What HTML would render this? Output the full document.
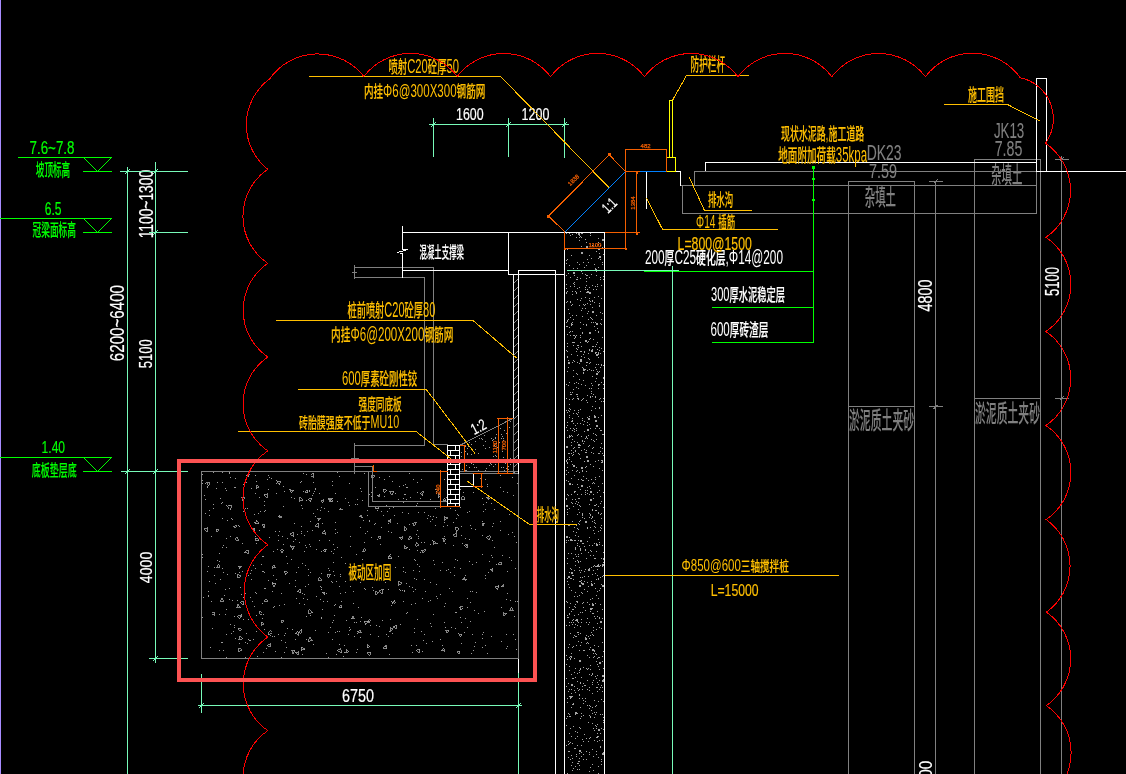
<!DOCTYPE html>
<html lang="zh"><head><meta charset="utf-8"><title>基坑支护剖面</title>
<style>
html,body{margin:0;padding:0;background:#000;overflow:hidden}
svg{display:block;will-change:transform;transform:translateZ(0)}
text{font-family:"Liberation Sans","Noto Sans CJK SC",sans-serif;font-weight:500;white-space:pre}
</style></head><body>
<svg width="1126" height="774" viewBox="0 0 1126 774" shape-rendering="crispEdges">
<rect width="1126" height="774" fill="#000"/>
<rect x="0" y="0" width="1" height="774" fill="#a88cff"/>
<path d="M367 510h1v1h-1zM226 490h1v1h-1zM250 565h1v1h-1zM461 526h1v1h-1zM424 579h1v1h-1zM248 613h1v1h-1zM491 503h1v1h-1zM500 487h1v1h-1zM405 484h1v1h-1zM225 614h1v1h-1zM350 579h1v1h-1zM262 618h1v1h-1zM294 498h1v1h-1zM298 567h1v1h-1zM234 616h1v1h-1zM307 599h1v1h-1zM420 552h1v1h-1zM434 564h1v1h-1zM294 650h1v1h-1zM243 619h1v1h-1zM455 559h1v1h-1zM349 627h1v1h-1zM262 603h1v1h-1zM377 510h1v1h-1zM417 482h1v1h-1zM241 614h1v1h-1zM362 559h1v1h-1zM506 599h1v1h-1zM435 489h1v1h-1zM340 593h1v1h-1zM235 487h1v1h-1zM360 637h1v1h-1zM430 544h1v1h-1zM379 477h1v1h-1zM383 515h1v1h-1zM454 487h1v1h-1zM349 505h1v1h-1zM405 572h1v1h-1zM456 492h1v1h-1zM407 612h1v1h-1zM272 582h1v1h-1zM344 652h1v1h-1zM385 646h1v1h-1zM320 510h1v1h-1zM279 531h1v1h-1zM208 596h1v1h-1zM295 539h1v1h-1zM276 579h1v1h-1zM514 616h1v1h-1zM266 648h1v1h-1zM229 588h1v1h-1zM488 572h1v1h-1zM403 498h1v1h-1zM407 487h1v1h-1zM308 584h1v1h-1zM376 625h1v1h-1zM202 617h1v1h-1zM253 565h1v1h-1zM238 525h1v1h-1zM278 634h1v1h-1zM379 626h1v1h-1zM264 501h1v1h-1zM440 594h1v1h-1zM245 508h1v1h-1zM377 539h1v1h-1zM284 604h1v1h-1zM472 564h1v1h-1zM480 478h1v1h-1zM354 636h1v1h-1zM335 604h1v1h-1zM287 563h1v1h-1zM474 610h1v1h-1zM370 634h1v1h-1zM301 533h1v1h-1zM318 523h1v1h-1zM384 479h1v1h-1zM345 592h1v1h-1zM511 560h1v1h-1zM380 565h1v1h-1zM254 530h1v1h-1zM374 524h1v1h-1zM514 472h1v1h-1zM378 636h1v1h-1zM263 571h1v1h-1zM304 594h1v1h-1zM424 634h1v1h-1zM404 590h1v1h-1zM245 657h1v1h-1zM267 479h1v1h-1zM440 639h1v1h-1zM507 593h1v1h-1zM381 511h1v1h-1zM269 477h1v1h-1zM254 606h1v1h-1zM273 583h1v1h-1zM301 526h1v1h-1zM310 546h1v1h-1zM502 555h1v1h-1zM416 505h1v1h-1zM383 589h1v1h-1zM466 579h1v1h-1zM458 505h1v1h-1zM470 602h1v1h-1zM427 518h1v1h-1zM278 516h1v1h-1zM263 614h1v1h-1zM467 607h1v1h-1zM256 615h1v1h-1zM299 542h1v1h-1zM252 601h1v1h-1zM216 488h1v1h-1zM515 601h1v1h-1zM304 649h1v1h-1zM462 608h1v1h-1zM461 535h1v1h-1zM334 615h1v1h-1zM305 586h1v1h-1zM264 572h1v1h-1zM239 643h1v1h-1zM239 526h1v1h-1zM264 511h1v1h-1zM389 508h1v1h-1zM272 591h1v1h-1zM250 573h1v1h-1zM285 642h1v1h-1zM284 652h1v1h-1zM465 575h1v1h-1zM302 563h1v1h-1zM389 476h1v1h-1zM436 584h1v1h-1zM398 556h1v1h-1zM353 603h1v1h-1zM259 530h1v1h-1zM255 493h1v1h-1zM222 518h1v1h-1zM268 580h1v1h-1zM334 575h1v1h-1zM465 618h1v1h-1zM369 494h1v1h-1zM295 580h1v1h-1zM339 476h1v1h-1zM335 493h1v1h-1zM315 489h1v1h-1zM264 588h1v1h-1zM485 578h1v1h-1zM339 631h1v1h-1zM471 653h1v1h-1zM258 513h1v1h-1zM294 523h1v1h-1zM358 607h1v1h-1zM350 586h1v1h-1zM293 541h1v1h-1zM211 536h1v1h-1zM211 601h1v1h-1zM299 603h1v1h-1zM430 499h1v1h-1zM423 640h1v1h-1zM403 601h1v1h-1zM312 530h1v1h-1zM273 575h1v1h-1zM229 505h1v1h-1zM332 582h1v1h-1zM245 642h1v1h-1zM461 643h1v1h-1zM508 534h1v1h-1zM225 589h1v1h-1zM339 586h1v1h-1zM388 556h1v1h-1zM482 554h1v1h-1zM360 527h1v1h-1zM202 557h1v1h-1zM445 543h1v1h-1zM304 535h1v1h-1zM204 495h1v1h-1zM247 508h1v1h-1zM223 572h1v1h-1zM357 633h1v1h-1zM501 607h1v1h-1zM281 640h1v1h-1zM507 571h1v1h-1zM455 510h1v1h-1zM276 483h1v1h-1zM464 632h1v1h-1zM460 507h1v1h-1zM460 617h1v1h-1zM210 647h1v1h-1zM319 493h1v1h-1zM270 635h1v1h-1zM255 568h1v1h-1zM487 484h1v1h-1zM474 646h1v1h-1zM337 472h1v1h-1zM237 600h1v1h-1zM249 640h1v1h-1zM444 536h1v1h-1zM337 532h1v1h-1zM307 531h1v1h-1zM437 598h1v1h-1zM241 594h1v1h-1zM349 483h1v1h-1zM303 491h1v1h-1zM371 537h1v1h-1zM357 631h1v1h-1zM208 595h1v1h-1zM339 644h1v1h-1zM313 644h1v1h-1zM466 545h1v1h-1zM440 502h1v1h-1zM483 523h1v1h-1zM245 593h1v1h-1zM436 491h1v1h-1zM432 540h1v1h-1zM309 491h1v1h-1zM274 606h1v1h-1zM386 505h1v1h-1zM462 543h1v1h-1zM388 531h1v1h-1zM450 572h1v1h-1zM203 597h1v1h-1zM409 549h1v1h-1zM415 560h1v1h-1zM263 556h1v1h-1zM375 573h1v1h-1zM302 654h1v1h-1zM350 536h1v1h-1zM403 571h1v1h-1zM503 491h1v1h-1zM421 542h1v1h-1zM345 498h1v1h-1zM348 634h1v1h-1zM329 540h1v1h-1zM363 520h1v1h-1zM421 479h1v1h-1zM406 613h1v1h-1zM243 484h1v1h-1zM412 587h1v1h-1zM272 636h1v1h-1zM450 484h1v1h-1zM483 504h1v1h-1zM414 559h1v1h-1zM332 639h1v1h-1zM324 549h1v1h-1zM403 502h1v1h-1zM284 491h1v1h-1zM456 612h1v1h-1zM372 587h1v1h-1zM482 521h1v1h-1zM291 559h1v1h-1zM365 533h1v1h-1zM493 523h1v1h-1zM413 570h1v1h-1zM470 525h1v1h-1zM375 487h1v1h-1zM496 564h1v1h-1zM459 607h1v1h-1zM312 495h1v1h-1zM329 570h1v1h-1zM430 582h1v1h-1zM213 504h1v1h-1zM444 622h1v1h-1zM239 572h1v1h-1zM472 591h1v1h-1zM329 499h1v1h-1zM279 605h1v1h-1zM257 656h1v1h-1zM436 493h1v1h-1zM222 472h1v1h-1zM321 617h1v1h-1zM357 504h1v1h-1zM472 634h1v1h-1zM259 497h1v1h-1zM470 621h1v1h-1zM335 529h1v1h-1zM202 474h1v1h-1zM437 543h1v1h-1zM326 593h1v1h-1zM482 535h1v1h-1zM412 652h1v1h-1zM230 477h1v1h-1zM417 492h1v1h-1zM419 566h1v1h-1zM219 650h1v1h-1zM417 564h1v1h-1zM303 473h1v1h-1zM460 489h1v1h-1zM304 551h1v1h-1zM301 531h1v1h-1zM337 547h1v1h-1zM455 628h1v1h-1zM316 596h1v1h-1zM230 624h1v1h-1zM403 485h1v1h-1zM507 508h1v1h-1zM232 519h1v1h-1zM362 500h1v1h-1zM286 556h1v1h-1zM470 591h1v1h-1zM395 567h1v1h-1zM428 515h1v1h-1zM242 543h1v1h-1zM417 503h1v1h-1zM308 569h1v1h-1zM360 582h1v1h-1zM444 522h1v1h-1zM430 521h1v1h-1zM444 479h1v1h-1zM328 632h1v1h-1zM222 568h1v1h-1zM234 487h1v1h-1zM234 627h1v1h-1zM341 557h1v1h-1zM517 483h1v1h-1zM364 542h1v1h-1zM506 634h1v1h-1zM235 478h1v1h-1zM256 593h1v1h-1zM440 570h1v1h-1zM422 598h1v1h-1zM456 518h1v1h-1zM357 649h1v1h-1zM512 532h1v1h-1zM365 589h1v1h-1zM507 492h1v1h-1zM402 512h1v1h-1zM235 638h1v1h-1zM484 611h1v1h-1zM420 498h1v1h-1zM337 631h1v1h-1zM251 579h1v1h-1zM430 516h1v1h-1zM415 589h1v1h-1zM322 609h1v1h-1zM264 547h1v1h-1zM492 540h1v1h-1zM335 522h1v1h-1zM297 534h1v1h-1zM346 620h1v1h-1zM235 573h1v1h-1zM327 601h1v1h-1zM253 639h1v1h-1zM220 498h1v1h-1zM320 586h1v1h-1zM222 547h1v1h-1zM227 520h1v1h-1zM500 521h1v1h-1zM392 603h1v1h-1zM431 626h1v1h-1zM205 499h1v1h-1zM381 527h1v1h-1zM376 508h1v1h-1zM332 481h1v1h-1zM306 474h1v1h-1zM411 645h1v1h-1zM361 491h1v1h-1zM455 612h1v1h-1zM410 497h1v1h-1zM483 511h1v1h-1zM248 639h1v1h-1zM340 576h1v1h-1zM359 578h1v1h-1zM361 617h1v1h-1zM414 578h1v1h-1zM388 636h1v1h-1zM409 524h1v1h-1zM424 512h1v1h-1zM248 575h1v1h-1zM388 589h1v1h-1zM268 475h1v1h-1zM274 636h1v1h-1zM405 494h1v1h-1zM391 601h1v1h-1zM380 544h1v1h-1zM289 489h1v1h-1zM453 522h1v1h-1zM224 595h1v1h-1zM513 634h1v1h-1zM284 635h1v1h-1zM315 630h1v1h-1zM302 593h1v1h-1zM313 482h1v1h-1zM467 512h1v1h-1zM265 510h1v1h-1zM300 482h1v1h-1zM221 642h1v1h-1zM262 571h1v1h-1zM483 632h1v1h-1zM417 550h1v1h-1zM419 571h1v1h-1zM430 600h1v1h-1zM213 472h1v1h-1zM452 591h1v1h-1zM436 517h1v1h-1zM406 499h1v1h-1zM385 582h1v1h-1zM428 601h1v1h-1zM222 482h1v1h-1zM244 552h1v1h-1zM463 492h1v1h-1zM460 568h1v1h-1zM271 478h1v1h-1zM516 649h1v1h-1zM301 505h1v1h-1zM453 545h1v1h-1zM286 647h1v1h-1zM315 488h1v1h-1zM514 536h1v1h-1zM516 542h1v1h-1zM435 508h1v1h-1zM447 525h1v1h-1zM517 601h1v1h-1zM392 481h1v1h-1zM408 513h1v1h-1zM344 645h1v1h-1zM394 515h1v1h-1zM337 501h1v1h-1zM226 634h1v1h-1zM433 614h1v1h-1zM255 536h1v1h-1zM403 567h1v1h-1zM390 619h1v1h-1zM371 492h1v1h-1zM292 629h1v1h-1zM226 547h1v1h-1zM331 551h1v1h-1zM501 641h1v1h-1zM202 480h1v1h-1zM350 629h1v1h-1zM415 603h1v1h-1zM226 505h1v1h-1zM515 639h1v1h-1zM229 472h1v1h-1zM357 499h1v1h-1zM475 529h1v1h-1zM356 622h1v1h-1zM389 631h1v1h-1zM283 506h1v1h-1zM326 653h1v1h-1zM251 488h1v1h-1zM340 574h1v1h-1zM207 486h1v1h-1zM489 561h1v1h-1zM498 585h1v1h-1zM467 598h1v1h-1zM202 483h1v1h-1zM214 575h1v1h-1zM283 486h1v1h-1zM255 475h1v1h-1zM302 508h1v1h-1zM467 627h1v1h-1zM414 628h1v1h-1zM360 488h1v1h-1zM226 657h1v1h-1zM477 473h1v1h-1zM425 591h1v1h-1zM433 516h1v1h-1zM255 538h1v1h-1zM221 503h1v1h-1zM336 654h1v1h-1zM485 645h1v1h-1zM469 539h1v1h-1zM313 493h1v1h-1zM209 515h1v1h-1zM322 523h1v1h-1zM369 521h1v1h-1zM370 625h1v1h-1zM476 592h1v1h-1zM473 650h1v1h-1zM215 583h1v1h-1zM321 618h1v1h-1zM310 572h1v1h-1zM241 616h1v1h-1zM276 480h1v1h-1zM256 631h1v1h-1zM378 508h1v1h-1zM217 482h1v1h-1zM223 650h1v1h-1zM225 488h1v1h-1zM388 523h1v1h-1zM475 642h1v1h-1zM398 499h1v1h-1zM306 500h1v1h-1zM246 633h1v1h-1zM446 497h1v1h-1zM306 547h1v1h-1zM418 538h1v1h-1zM333 544h1v1h-1zM390 554h1v1h-1zM510 600h1v1h-1zM349 630h1v1h-1zM413 479h1v1h-1zM252 560h1v1h-1zM226 609h1v1h-1zM248 619h1v1h-1zM289 583h1v1h-1zM305 545h1v1h-1zM229 473h1v1h-1zM250 597h1v1h-1zM296 598h1v1h-1zM465 538h1v1h-1zM283 544h1v1h-1zM320 599h1v1h-1zM243 597h1v1h-1zM489 498h1v1h-1zM384 496h1v1h-1zM404 494h1v1h-1zM214 567h1v1h-1zM336 581h1v1h-1zM458 515h1v1h-1zM321 589h1v1h-1zM506 648h1v1h-1zM219 561h1v1h-1zM469 511h1v1h-1zM432 641h1v1h-1zM367 515h1v1h-1zM333 620h1v1h-1zM373 590h1v1h-1zM323 601h1v1h-1zM356 652h1v1h-1zM281 657h1v1h-1zM328 657h1v1h-1zM469 561h1v1h-1zM369 520h1v1h-1zM254 514h1v1h-1zM254 522h1v1h-1zM277 549h1v1h-1zM424 542h1v1h-1zM256 543h1v1h-1zM400 590h1v1h-1zM406 583h1v1h-1zM458 633h1v1h-1zM213 508h1v1h-1zM409 473h1v1h-1zM422 651h1v1h-1zM417 530h1v1h-1zM500 530h1v1h-1zM265 588h1v1h-1zM335 632h1v1h-1zM416 534h1v1h-1zM282 536h1v1h-1zM449 588h1v1h-1zM411 604h1v1h-1zM295 639h1v1h-1zM207 571h1v1h-1zM256 481h1v1h-1zM313 513h1v1h-1zM304 604h1v1h-1zM496 588h1v1h-1zM445 603h1v1h-1zM391 605h1v1h-1zM435 525h1v1h-1zM296 572h1v1h-1zM264 629h1v1h-1zM230 536h1v1h-1zM406 487h1v1h-1zM416 579h1v1h-1zM382 620h1v1h-1zM316 549h1v1h-1zM471 528h1v1h-1zM402 590h1v1h-1zM268 489h1v1h-1zM300 592h1v1h-1zM317 509h1v1h-1zM413 591h1v1h-1zM482 638h1v1h-1zM442 562h1v1h-1zM319 540h1v1h-1zM331 581h1v1h-1zM448 472h1v1h-1zM345 563h1v1h-1zM356 554h1v1h-1zM421 631h1v1h-1zM387 511h1v1h-1zM399 486h1v1h-1zM491 555h1v1h-1zM273 607h1v1h-1zM500 475h1v1h-1zM309 490h1v1h-1zM330 627h1v1h-1zM275 531h1v1h-1zM433 560h1v1h-1zM308 575h1v1h-1zM287 628h1v1h-1zM513 495h1v1h-1zM482 634h1v1h-1zM303 598h1v1h-1zM473 492h1v1h-1zM426 643h1v1h-1zM486 502h1v1h-1zM321 507h1v1h-1zM487 486h1v1h-1zM275 651h1v1h-1zM457 514h1v1h-1zM205 513h1v1h-1zM441 650h1v1h-1zM353 591h1v1h-1zM416 645h1v1h-1zM386 634h1v1h-1zM212 628h1v1h-1zM371 496h1v1h-1zM450 508h1v1h-1zM414 632h1v1h-1zM250 640h1v1h-1zM444 606h1v1h-1zM309 544h1v1h-1zM418 536h1v1h-1zM350 546h1v1h-1zM454 575h1v1h-1zM341 601h1v1h-1zM306 639h1v1h-1zM262 556h1v1h-1zM355 504h1v1h-1zM246 482h1v1h-1zM485 575h1v1h-1zM227 574h1v1h-1zM205 483h1v1h-1zM445 627h1v1h-1zM232 600h1v1h-1zM515 568h1v1h-1zM507 646h1v1h-1zM222 642h1v1h-1zM291 497h1v1h-1zM220 579h1v1h-1zM208 566h1v1h-1zM273 551h1v1h-1zM334 549h1v1h-1zM219 553h1v1h-1zM491 636h1v1h-1zM229 599h1v1h-1zM222 502h1v1h-1zM417 619h1v1h-1zM409 586h1v1h-1zM400 624h1v1h-1zM281 593h1v1h-1zM482 498h1v1h-1zM443 526h1v1h-1zM209 581h1v1h-1zM264 494h1v1h-1zM264 505h1v1h-1zM343 656h1v1h-1zM432 519h1v1h-1zM389 654h1v1h-1zM276 493h1v1h-1zM487 653h1v1h-1zM332 485h1v1h-1zM207 487h1v1h-1zM242 571h1v1h-1zM509 514h1v1h-1zM451 627h1v1h-1zM390 619h1v1h-1zM442 645h1v1h-1zM261 564h1v1h-1zM285 633h1v1h-1zM446 570h1v1h-1zM433 541h1v1h-1zM492 557h1v1h-1zM233 631h1v1h-1zM509 557h1v1h-1zM209 510h1v1h-1zM360 621h1v1h-1zM328 568h1v1h-1zM394 626h1v1h-1zM321 587h1v1h-1zM202 554h1v1h-1zM418 512h1v1h-1zM223 545h1v1h-1zM494 509h1v1h-1zM482 647h1v1h-1zM457 560h1v1h-1zM478 613h1v1h-1zM397 523h1v1h-1zM321 551h1v1h-1zM404 591h1v1h-1zM332 622h1v1h-1zM399 589h1v1h-1zM476 562h1v1h-1zM321 573h1v1h-1zM334 605h1v1h-1zM461 622h1v1h-1zM310 521h1v1h-1zM350 564h1v1h-1zM385 575h1v1h-1zM278 535h1v1h-1zM454 567h1v1h-1zM392 633h1v1h-1zM243 511h1v1h-1zM217 560h1v1h-1zM512 477h1v1h-1zM306 616h1v1h-1zM492 526h1v1h-1zM345 581h1v1h-1zM430 623h1v1h-1zM269 537h1v1h-1zM375 523h1v1h-1zM395 493h1v1h-1zM219 614h1v1h-1zM436 596h1v1h-1zM234 625h1v1h-1zM263 652h1v1h-1zM333 553h1v1h-1zM247 643h1v1h-1zM295 586h1v1h-1zM391 532h1v1h-1zM315 516h1v1h-1zM333 562h1v1h-1zM485 479h1v1h-1zM226 538h1v1h-1zM449 486h1v1h-1zM364 473h1v1h-1zM354 622h1v1h-1zM255 592h1v1h-1zM333 571h1v1h-1zM448 569h1v1h-1zM324 508h1v1h-1zM208 591h1v1h-1zM301 481h1v1h-1zM314 491h1v1h-1zM393 507h1v1h-1zM251 570h1v1h-1zM240 587h1v1h-1zM367 531h1v1h-1zM389 508h1v1h-1zM231 518h1v1h-1zM485 509h1v1h-1zM278 540h1v1h-1zM328 511h1v1h-1zM494 547h1v1h-1zM287 538h1v1h-1zM364 588h1v1h-1zM260 511h1v1h-1zM231 633h1v1h-1zM310 615h1v1h-1zM348 502h1v1h-1zM305 565h1v1h-1zM335 533h1v1h-1z" fill="#9a9a9a"/>
<path d="M236.7 525.6L234.9 528.4L233.7 526.3zM249.0 473.5L248.9 477.0L246.2 475.8zM259.8 611.3L262.4 613.4L259.5 614.4zM394.7 599.5L395.3 603.3L392.1 602.5zM456.8 532.7L456.0 537.1L453.2 535.2zM261.4 625.1L261.4 622.1L264.3 624.3zM243.0 600.9L243.9 605.0L240.1 602.6zM497.7 564.0L501.4 561.6L501.1 565.2zM284.1 621.3L281.7 622.5L281.9 619.6zM423.2 491.4L422.8 495.6L419.9 493.4zM328.1 498.1L332.6 498.0L329.8 501.8zM326.1 548.8L325.8 552.0L323.0 550.4zM340.8 648.6L341.6 652.5L337.2 650.5zM280.7 549.5L284.0 550.1L282.0 552.5zM506.8 613.6L503.9 616.2L503.0 612.9zM412.3 523.7L416.4 522.2L414.6 526.2zM300.5 592.4L297.4 591.6L299.9 588.7zM243.0 500.5L241.6 497.0L245.3 498.1zM381.9 593.6L379.0 591.0L382.5 589.5zM272.3 568.3L273.5 564.7L275.5 567.4zM292.8 654.1L291.8 650.1L295.0 651.1zM342.0 608.0L339.3 607.5L341.1 604.8zM396.6 625.4L396.3 628.9L393.3 627.1zM489.0 496.6L488.1 499.5L486.0 497.5zM445.6 630.0L449.1 630.3L447.0 633.2zM324.4 530.3L325.8 534.1L321.7 533.2zM386.6 490.2L384.1 492.7L383.0 489.4zM206.6 482.4L210.0 482.8L208.5 485.6zM415.5 546.0L416.2 542.7L418.9 544.9zM327.1 574.4L330.8 574.3L328.3 577.9zM369.2 622.9L366.9 621.4L370.2 619.5zM459.8 650.7L458.9 654.3L456.5 651.9zM398.0 585.3L398.6 580.5L402.2 583.5zM207.6 527.5L207.2 531.5L204.0 529.2zM367.3 653.0L371.1 652.0L369.8 655.4zM364.3 621.4L368.8 621.3L365.7 624.7zM259.2 524.0L255.2 523.9L256.9 520.4zM383.1 648.1L385.9 644.7L386.9 648.5zM455.1 527.4L459.2 528.2L456.5 531.8zM298.3 632.4L301.3 629.4L301.3 633.4zM376.5 495.7L379.5 494.4L379.3 497.4zM264.0 527.5L262.4 524.8L265.2 524.6zM460.7 499.1L463.2 495.6L465.0 499.8zM267.4 645.6L270.5 643.5L269.8 646.9zM317.6 518.3L320.5 518.4L318.7 520.9zM322.1 592.4L325.2 591.9L324.3 594.6zM237.5 577.5L237.7 573.8L240.8 576.2zM294.4 546.4L292.9 549.5L290.0 545.9zM408.0 539.3L410.5 535.7L411.9 538.6zM239.8 636.3L242.8 638.9L238.9 639.8zM216.2 529.2L219.0 530.1L216.6 532.3zM313.8 472.9L313.6 477.3L310.6 475.5zM239.6 618.8L237.1 616.2L241.3 615.3zM293.9 490.6L291.2 493.0L290.4 489.8zM219.7 601.3L222.3 597.9L223.4 601.5zM287.9 572.1L285.6 575.0L284.2 571.4zM300.0 497.4L303.1 499.9L299.0 501.2zM299.0 635.3L295.4 633.4L297.9 631.4zM389.7 555.2L392.0 558.6L388.2 558.8zM264.3 601.2L266.1 598.8L267.5 601.3zM513.1 610.5L509.9 610.5L511.5 607.1zM374.8 475.9L372.6 478.7L370.8 475.8zM214.3 612.1L214.1 615.5L211.6 613.2zM460.4 609.6L460.5 606.3L463.4 608.2zM277.2 481.2L281.0 481.6L279.2 484.6zM252.2 528.1L255.1 528.2L254.1 530.3zM340.9 507.5L342.3 509.7L339.7 510.1zM362.8 551.9L363.5 548.8L366.1 550.4zM379.9 539.0L377.5 536.6L380.5 536.3zM503.0 584.4L503.4 587.4L500.5 586.2zM404.3 530.8L404.2 526.5L407.4 529.0zM318.1 580.1L319.5 576.9L321.5 580.1zM239.6 631.1L238.2 628.4L241.1 628.5zM238.4 566.3L241.4 566.4L239.8 568.6zM441.1 495.8L438.0 497.7L438.2 493.6zM444.5 497.7L446.1 500.7L443.0 500.3zM425.5 549.9L423.4 553.4L421.4 550.2zM309.0 609.6L312.8 612.5L308.9 613.9zM389.2 491.6L393.5 491.0L392.5 495.1zM465.5 580.4L462.5 579.6L464.1 577.4zM324.3 499.6L322.7 502.6L320.6 500.7zM360.3 629.8L361.1 632.5L358.4 632.0zM467.2 543.7L467.1 547.6L464.0 545.5zM255.4 540.2L257.5 537.6L259.0 540.8zM348.6 651.8L345.8 652.8L346.3 649.8zM369.9 646.5L367.1 647.7L367.4 644.8zM318.4 523.2L319.0 527.4L314.8 526.0zM399.3 537.3L402.6 536.9L401.7 539.7zM279.6 518.2L279.4 515.4L282.0 517.0zM256.3 488.7L256.3 485.5L259.1 486.6zM227.5 505.5L231.8 506.2L230.4 509.5zM483.1 526.1L481.5 523.7L484.3 523.3zM390.4 627.9L393.2 629.0L390.3 631.2zM310.8 501.5L308.4 499.5L311.5 498.0zM404.2 545.8L407.5 547.8L404.6 549.2zM388.0 521.3L390.7 519.3L390.8 522.4zM307.5 492.9L304.9 491.9L307.5 490.1zM375.1 591.7L378.4 592.2L376.0 594.6zM441.9 650.0L443.7 648.0L445.2 651.4zM446.1 539.3L443.9 541.7L442.8 538.3zM378.2 506.5L376.0 509.4L374.8 506.8zM447.5 518.0L444.3 520.4L444.0 516.5zM240.4 607.6L236.9 607.5L237.9 604.1zM497.6 589.1L495.1 586.9L498.6 586.2zM298.1 655.1L295.4 652.6L299.0 651.9zM290.0 534.3L293.4 532.1L293.6 536.6zM268.0 635.2L269.5 630.8L272.2 632.9zM241.9 649.9L238.7 651.7L238.6 647.6zM310.1 637.3L312.3 640.5L308.0 641.5zM359.6 516.7L360.9 514.8L362.6 517.5zM248.3 553.8L244.7 552.0L248.1 549.8zM488.9 540.0L486.4 537.3L490.4 535.5zM216.7 567.7L218.5 563.9L220.2 567.1zM419.8 649.1L419.0 653.1L416.1 650.4zM333.4 501.0L331.1 502.0L330.7 499.3zM268.0 493.6L267.1 497.8L264.0 495.6zM304.8 648.9L301.3 650.5L301.1 646.8zM434.2 540.8L436.5 543.2L433.1 544.2zM273.8 587.0L272.0 583.3L276.0 583.2zM489.5 569.7L492.5 568.3L492.4 571.7zM461.8 634.0L460.9 636.5L458.9 634.9zM237.4 536.7L238.3 540.8L234.7 539.3zM353.1 616.1L354.3 618.6L351.3 618.9z" fill="none" stroke="#a8a8a8" stroke-width="0.8"/>
<path d="M590 491h2v2h-2zM578 233h1v1h-1zM569 415h1v1h-1zM600 514h1v1h-1zM582 480h1v1h-1zM594 326h1v1h-1zM597 323h1v1h-1zM593 530h1v1h-1zM589 277h1v1h-1zM590 608h2v2h-2zM584 650h1v1h-1zM582 593h1v1h-1zM603 365h1v1h-1zM578 614h1v1h-1zM579 570h1v1h-1zM571 689h1v1h-1zM599 657h1v1h-1zM567 343h1v1h-1zM595 706h1v1h-1zM593 657h1v1h-1zM577 299h1v1h-1zM597 371h1v1h-1zM566 470h1v1h-1zM591 274h1v1h-1zM584 571h1v1h-1zM595 353h1v1h-1zM570 248h1v1h-1zM571 453h1v1h-1zM569 437h1v1h-1zM596 289h1v1h-1zM592 376h1v1h-1zM569 382h1v1h-1zM578 763h1v1h-1zM577 514h1v1h-1zM571 553h1v1h-1zM585 637h1v1h-1zM592 285h1v1h-1zM581 622h1v1h-1zM600 496h1v1h-1zM574 286h1v1h-1zM589 708h1v1h-1zM603 377h1v1h-1zM587 438h1v1h-1zM601 285h1v1h-1zM566 302h1v1h-1zM602 564h2v2h-2zM580 682h1v1h-1zM579 698h1v1h-1zM594 441h1v1h-1zM569 417h1v1h-1zM573 283h1v1h-1zM570 742h1v1h-1zM601 401h1v1h-1zM584 449h1v1h-1zM576 382h1v1h-1zM579 761h1v1h-1zM572 439h1v1h-1zM569 657h1v1h-1zM582 686h1v1h-1zM575 291h1v1h-1zM574 275h1v1h-1zM594 533h1v1h-1zM603 559h1v1h-1zM575 549h1v1h-1zM586 452h1v1h-1zM580 633h1v1h-1zM586 622h1v1h-1zM584 461h1v1h-1zM571 435h1v1h-1zM577 673h1v1h-1zM591 350h2v2h-2zM588 358h1v1h-1zM579 769h1v1h-1zM584 734h1v1h-1zM597 328h1v1h-1zM583 543h1v1h-1zM600 323h1v1h-1zM596 510h1v1h-1zM580 540h2v2h-2zM572 234h1v1h-1zM575 540h1v1h-1zM587 591h1v1h-1zM581 570h1v1h-1zM577 345h1v1h-1zM585 304h1v1h-1zM595 330h1v1h-1zM573 398h1v1h-1zM595 269h2v2h-2zM598 332h1v1h-1zM574 658h1v1h-1zM588 311h1v1h-1zM576 601h1v1h-1zM571 572h2v2h-2zM596 543h1v1h-1zM572 342h1v1h-1zM573 389h1v1h-1zM600 353h1v1h-1zM581 400h1v1h-1zM568 751h1v1h-1zM578 523h1v1h-1zM579 363h1v1h-1zM600 746h1v1h-1zM572 248h1v1h-1zM569 733h1v1h-1zM602 448h1v1h-1zM580 322h1v1h-1zM575 503h1v1h-1zM593 635h1v1h-1zM573 531h1v1h-1zM573 319h1v1h-1zM579 472h1v1h-1zM598 296h1v1h-1zM570 578h1v1h-1zM568 453h1v1h-1zM577 543h1v1h-1zM595 420h2v2h-2zM592 649h2v2h-2zM581 384h1v1h-1zM576 387h1v1h-1zM574 441h1v1h-1zM580 572h1v1h-1zM570 235h1v1h-1zM596 271h1v1h-1zM587 303h1v1h-1zM570 436h1v1h-1zM569 607h1v1h-1zM571 590h1v1h-1zM597 741h1v1h-1zM585 287h1v1h-1zM603 401h1v1h-1zM598 539h1v1h-1zM603 351h1v1h-1zM582 470h1v1h-1zM603 701h1v1h-1zM597 284h1v1h-1zM591 583h1v1h-1zM591 322h1v1h-1zM587 669h1v1h-1zM566 540h1v1h-1zM567 346h1v1h-1zM596 661h1v1h-1zM585 701h1v1h-1zM600 451h1v1h-1zM591 710h1v1h-1zM584 576h1v1h-1zM583 424h1v1h-1zM594 650h1v1h-1zM581 356h1v1h-1zM568 617h1v1h-1zM577 632h1v1h-1zM575 604h1v1h-1zM588 636h1v1h-1zM586 751h1v1h-1zM578 399h1v1h-1zM566 233h1v1h-1zM572 484h1v1h-1zM582 593h1v1h-1zM601 759h1v1h-1zM574 492h1v1h-1zM570 759h1v1h-1zM594 505h1v1h-1zM589 545h1v1h-1zM590 767h1v1h-1zM569 743h1v1h-1zM567 291h1v1h-1zM573 619h1v1h-1zM598 388h1v1h-1zM595 268h1v1h-1zM596 373h2v2h-2zM583 380h1v1h-1zM602 753h2v2h-2zM591 410h1v1h-1zM583 480h1v1h-1zM600 259h1v1h-1zM592 319h1v1h-1zM590 737h1v1h-1zM589 517h1v1h-1zM602 740h1v1h-1zM600 588h1v1h-1zM578 761h1v1h-1zM569 399h1v1h-1zM599 407h1v1h-1zM569 537h1v1h-1zM589 424h1v1h-1zM596 435h1v1h-1zM594 645h1v1h-1zM582 603h1v1h-1zM590 716h1v1h-1zM579 694h1v1h-1zM592 396h1v1h-1zM586 278h1v1h-1zM600 714h1v1h-1zM592 311h1v1h-1zM589 638h1v1h-1zM584 357h1v1h-1zM566 275h1v1h-1zM602 545h1v1h-1zM589 504h1v1h-1zM570 331h1v1h-1zM592 346h1v1h-1zM576 413h1v1h-1zM573 646h1v1h-1zM587 642h1v1h-1zM587 591h1v1h-1zM575 766h1v1h-1zM584 369h1v1h-1zM570 656h1v1h-1zM566 474h1v1h-1zM591 452h1v1h-1zM583 368h1v1h-1zM581 745h1v1h-1zM584 267h1v1h-1zM590 527h1v1h-1zM590 514h1v1h-1zM598 512h1v1h-1zM580 549h1v1h-1zM602 313h1v1h-1zM599 306h1v1h-1zM586 456h2v2h-2zM574 690h1v1h-1zM569 689h1v1h-1zM568 273h1v1h-1zM595 346h1v1h-1zM584 581h1v1h-1zM599 468h1v1h-1zM579 521h1v1h-1zM602 264h1v1h-1zM577 262h1v1h-1zM583 667h1v1h-1zM583 324h1v1h-1zM591 632h1v1h-1zM603 651h1v1h-1zM569 613h1v1h-1zM587 490h1v1h-1zM596 369h1v1h-1zM595 428h1v1h-1zM578 347h1v1h-1zM584 431h1v1h-1zM599 249h1v1h-1zM578 434h1v1h-1zM578 536h1v1h-1zM567 249h1v1h-1zM579 660h2v2h-2zM600 503h1v1h-1zM576 556h1v1h-1zM585 340h2v2h-2zM577 596h1v1h-1zM567 698h1v1h-1zM587 342h1v1h-1zM589 715h1v1h-1zM571 578h1v1h-1zM596 364h1v1h-1zM599 490h1v1h-1zM579 595h1v1h-1zM567 430h1v1h-1zM599 680h1v1h-1zM590 397h1v1h-1zM593 370h1v1h-1zM573 452h1v1h-1zM600 621h2v2h-2zM571 707h1v1h-1zM579 305h1v1h-1zM587 705h1v1h-1zM579 240h1v1h-1zM588 624h1v1h-1zM572 362h1v1h-1zM594 700h1v1h-1zM594 302h1v1h-1zM569 714h1v1h-1zM581 713h1v1h-1zM596 378h1v1h-1zM597 623h1v1h-1zM581 467h2v2h-2zM602 462h1v1h-1zM568 481h1v1h-1zM578 233h2v2h-2zM569 644h1v1h-1zM580 278h1v1h-1zM602 656h1v1h-1zM575 712h2v2h-2zM572 331h1v1h-1zM599 399h1v1h-1zM586 341h1v1h-1zM590 235h1v1h-1zM567 320h1v1h-1zM600 312h1v1h-1zM600 530h1v1h-1zM566 446h2v2h-2zM598 701h1v1h-1zM579 672h1v1h-1zM571 765h1v1h-1zM572 322h1v1h-1zM572 324h1v1h-1zM585 549h1v1h-1zM575 738h1v1h-1zM587 429h2v2h-2zM570 277h1v1h-1zM579 765h1v1h-1zM592 448h1v1h-1zM571 255h1v1h-1zM567 371h1v1h-1zM593 289h1v1h-1zM584 685h1v1h-1zM574 491h1v1h-1zM588 262h1v1h-1zM572 399h1v1h-1zM596 566h1v1h-1zM581 246h1v1h-1zM567 581h1v1h-1zM588 569h2v2h-2zM581 583h1v1h-1zM600 398h1v1h-1zM586 668h1v1h-1zM589 298h1v1h-1zM595 397h1v1h-1zM569 483h1v1h-1zM592 764h1v1h-1zM571 450h1v1h-1zM566 499h1v1h-1zM573 413h1v1h-1zM576 524h1v1h-1zM581 582h1v1h-1zM567 326h1v1h-1zM579 498h1v1h-1zM603 378h1v1h-1zM570 633h1v1h-1zM570 301h1v1h-1zM570 603h1v1h-1zM601 348h1v1h-1zM598 513h1v1h-1zM594 415h1v1h-1zM582 543h1v1h-1zM577 688h1v1h-1zM572 704h1v1h-1zM579 264h1v1h-1zM580 342h1v1h-1zM588 576h1v1h-1zM566 427h1v1h-1zM571 394h1v1h-1zM603 552h1v1h-1zM577 279h1v1h-1zM572 291h1v1h-1zM571 461h1v1h-1zM584 248h1v1h-1zM574 596h1v1h-1zM577 374h1v1h-1zM582 612h1v1h-1zM599 347h1v1h-1zM576 525h1v1h-1zM567 462h1v1h-1zM580 626h1v1h-1zM581 716h1v1h-1zM566 284h1v1h-1zM590 611h1v1h-1zM567 716h1v1h-1zM573 345h1v1h-1zM597 328h1v1h-1zM597 724h1v1h-1zM580 669h1v1h-1zM573 428h1v1h-1zM589 687h1v1h-1zM587 291h1v1h-1zM580 728h1v1h-1zM602 618h1v1h-1zM593 770h1v1h-1zM599 407h1v1h-1zM586 450h1v1h-1zM596 504h1v1h-1zM595 367h1v1h-1zM594 558h1v1h-1zM583 602h1v1h-1zM596 726h1v1h-1zM598 244h1v1h-1zM598 258h1v1h-1zM568 472h1v1h-1zM574 606h1v1h-1zM586 275h1v1h-1zM589 419h1v1h-1zM567 702h1v1h-1zM571 693h1v1h-1zM568 525h1v1h-1zM574 429h1v1h-1zM586 437h1v1h-1zM591 258h1v1h-1zM566 601h1v1h-1zM580 300h1v1h-1zM598 736h1v1h-1zM579 454h1v1h-1zM596 439h1v1h-1zM595 510h1v1h-1zM586 265h1v1h-1zM587 655h1v1h-1zM567 615h1v1h-1zM581 233h1v1h-1zM582 698h1v1h-1zM601 628h1v1h-1zM581 356h1v1h-1zM592 385h1v1h-1zM599 371h1v1h-1zM569 404h1v1h-1zM576 315h1v1h-1zM594 651h1v1h-1zM602 461h1v1h-1zM583 650h1v1h-1zM593 339h1v1h-1zM584 305h1v1h-1zM577 374h1v1h-1zM599 618h1v1h-1zM598 352h1v1h-1zM597 611h1v1h-1zM601 430h1v1h-1zM603 492h1v1h-1zM577 494h1v1h-1zM592 608h1v1h-1zM582 308h1v1h-1zM569 716h1v1h-1zM586 242h1v1h-1zM587 417h1v1h-1zM586 471h1v1h-1zM571 445h1v1h-1zM591 370h1v1h-1zM580 612h1v1h-1zM589 622h1v1h-1zM589 363h1v1h-1zM579 505h1v1h-1zM598 372h1v1h-1zM592 312h1v1h-1zM595 573h1v1h-1zM588 586h1v1h-1zM593 555h1v1h-1zM596 251h1v1h-1zM576 636h1v1h-1zM584 441h1v1h-1zM603 434h1v1h-1zM585 494h1v1h-1zM570 698h1v1h-1zM603 279h1v1h-1zM566 655h1v1h-1zM583 262h1v1h-1zM566 410h1v1h-1zM581 237h1v1h-1zM577 504h1v1h-1zM581 252h2v2h-2zM571 323h1v1h-1zM575 714h1v1h-1zM599 590h1v1h-1zM592 723h1v1h-1zM587 289h1v1h-1zM582 399h1v1h-1zM570 286h1v1h-1zM582 367h1v1h-1zM587 582h1v1h-1zM575 425h1v1h-1zM601 285h1v1h-1zM593 627h1v1h-1zM567 467h1v1h-1zM570 716h1v1h-1zM603 388h1v1h-1zM594 712h1v1h-1zM580 328h1v1h-1zM596 678h1v1h-1zM578 453h1v1h-1zM595 479h1v1h-1zM598 666h1v1h-1zM587 291h2v2h-2zM567 459h1v1h-1zM579 698h1v1h-1zM577 442h1v1h-1zM582 367h1v1h-1zM580 707h1v1h-1zM585 639h1v1h-1zM585 289h1v1h-1zM586 324h1v1h-1zM586 759h1v1h-1zM577 484h1v1h-1zM578 561h1v1h-1zM598 766h1v1h-1zM596 551h1v1h-1zM572 304h1v1h-1zM593 728h1v1h-1zM598 460h1v1h-1zM596 661h1v1h-1zM589 690h1v1h-1zM586 285h1v1h-1zM595 322h1v1h-1zM583 369h2v2h-2zM601 365h1v1h-1zM568 540h1v1h-1zM587 680h1v1h-1zM575 636h1v1h-1zM569 265h1v1h-1zM574 342h1v1h-1zM586 400h1v1h-1zM592 406h1v1h-1zM590 669h1v1h-1zM589 359h1v1h-1zM595 352h1v1h-1zM590 717h1v1h-1zM577 528h1v1h-1zM591 439h1v1h-1zM574 431h1v1h-1zM597 342h1v1h-1zM598 579h1v1h-1zM567 494h1v1h-1zM575 561h1v1h-1zM587 425h1v1h-1zM569 233h1v1h-1zM602 585h2v2h-2zM582 273h1v1h-1zM586 466h1v1h-1zM583 607h1v1h-1zM588 636h1v1h-1zM573 465h2v2h-2zM592 483h1v1h-1zM569 408h1v1h-1zM585 492h1v1h-1zM586 622h1v1h-1zM585 369h1v1h-1zM587 289h1v1h-1zM577 560h1v1h-1zM574 282h1v1h-1zM601 699h1v1h-1zM596 705h1v1h-1zM579 581h1v1h-1zM570 335h1v1h-1zM567 259h1v1h-1zM570 302h1v1h-1zM569 436h1v1h-1zM591 551h1v1h-1zM590 550h1v1h-1zM602 714h1v1h-1zM588 552h1v1h-1zM588 341h1v1h-1zM599 303h1v1h-1zM592 245h1v1h-1zM580 445h1v1h-1zM600 604h1v1h-1zM573 268h1v1h-1zM602 675h2v2h-2zM574 672h1v1h-1zM577 769h1v1h-1zM598 598h1v1h-1zM569 457h1v1h-1zM593 394h1v1h-1zM570 659h1v1h-1zM585 569h1v1h-1zM577 736h1v1h-1zM598 244h1v1h-1zM575 620h1v1h-1zM601 401h1v1h-1zM601 348h1v1h-1zM589 287h1v1h-1zM579 750h2v2h-2zM598 453h1v1h-1zM575 451h1v1h-1zM594 264h1v1h-1zM582 515h1v1h-1zM579 758h1v1h-1zM569 327h1v1h-1zM587 402h1v1h-1zM581 494h1v1h-1zM577 470h1v1h-1zM578 345h1v1h-1zM579 512h1v1h-1zM593 756h1v1h-1zM566 686h1v1h-1zM570 658h1v1h-1zM595 408h1v1h-1zM600 577h1v1h-1zM581 436h1v1h-1zM592 598h1v1h-1zM585 550h1v1h-1zM579 689h1v1h-1zM578 556h1v1h-1zM584 421h1v1h-1zM594 730h1v1h-1zM583 715h1v1h-1zM596 754h1v1h-1zM576 471h1v1h-1zM590 304h1v1h-1zM588 668h1v1h-1zM591 388h1v1h-1zM602 239h2v2h-2zM596 595h1v1h-1zM591 675h1v1h-1zM576 237h1v1h-1zM575 607h1v1h-1zM591 567h1v1h-1zM580 581h1v1h-1zM576 645h1v1h-1zM584 351h1v1h-1zM567 563h1v1h-1zM594 740h1v1h-1zM599 253h1v1h-1zM600 565h1v1h-1zM596 352h1v1h-1zM590 499h2v2h-2zM590 301h1v1h-1zM600 245h1v1h-1zM587 527h1v1h-1zM576 619h2v2h-2zM578 447h1v1h-1zM574 383h1v1h-1zM580 291h1v1h-1zM573 342h1v1h-1zM601 324h1v1h-1zM575 677h1v1h-1zM568 741h1v1h-1zM590 665h1v1h-1zM577 362h1v1h-1zM568 319h1v1h-1zM573 272h2v2h-2zM576 348h1v1h-1zM572 418h1v1h-1zM588 435h1v1h-1zM593 566h1v1h-1zM582 689h1v1h-1zM567 412h1v1h-1zM575 592h1v1h-1zM569 689h1v1h-1zM568 683h1v1h-1zM602 247h1v1h-1zM567 578h1v1h-1zM598 384h1v1h-1zM601 761h1v1h-1zM577 625h1v1h-1zM566 745h1v1h-1zM598 238h1v1h-1zM589 657h1v1h-1zM578 622h1v1h-1zM592 574h1v1h-1zM603 398h1v1h-1zM590 428h1v1h-1zM579 237h1v1h-1zM586 558h1v1h-1zM601 501h1v1h-1zM587 395h1v1h-1zM600 733h1v1h-1zM571 736h1v1h-1zM568 385h1v1h-1zM571 657h1v1h-1zM603 752h1v1h-1zM566 322h1v1h-1zM574 338h1v1h-1zM573 678h1v1h-1zM582 316h1v1h-1zM589 332h2v2h-2zM585 452h1v1h-1zM582 517h1v1h-1zM579 753h1v1h-1zM599 669h1v1h-1zM583 700h1v1h-1zM586 643h1v1h-1zM596 354h2v2h-2zM575 535h1v1h-1zM600 367h1v1h-1zM590 488h1v1h-1zM598 267h1v1h-1zM567 321h1v1h-1zM568 453h1v1h-1zM596 315h1v1h-1zM587 422h1v1h-1zM573 423h1v1h-1zM582 577h1v1h-1zM580 718h1v1h-1zM580 489h1v1h-1zM569 459h1v1h-1zM585 297h1v1h-1zM600 687h1v1h-1zM592 713h1v1h-1zM569 625h1v1h-1zM595 725h1v1h-1zM578 498h1v1h-1zM573 558h1v1h-1zM576 373h1v1h-1zM596 737h1v1h-1zM602 609h1v1h-1zM597 569h1v1h-1zM572 609h1v1h-1zM573 376h1v1h-1zM584 571h1v1h-1zM601 415h1v1h-1zM567 558h1v1h-1zM573 524h1v1h-1zM589 604h1v1h-1zM578 412h1v1h-1zM578 540h1v1h-1zM581 298h1v1h-1zM579 305h1v1h-1zM598 353h1v1h-1zM581 346h1v1h-1zM572 430h1v1h-1zM566 505h2v2h-2zM593 322h1v1h-1zM586 242h1v1h-1zM588 418h2v2h-2zM578 416h1v1h-1zM580 337h1v1h-1zM573 506h1v1h-1zM598 564h1v1h-1zM590 647h1v1h-1zM567 301h1v1h-1zM593 346h1v1h-1zM583 759h1v1h-1zM589 255h1v1h-1zM569 670h1v1h-1zM590 397h1v1h-1zM589 369h1v1h-1zM589 494h1v1h-1zM576 394h1v1h-1zM573 360h1v1h-1zM598 331h1v1h-1zM592 707h1v1h-1zM566 292h1v1h-1zM574 475h1v1h-1zM566 480h1v1h-1zM588 480h1v1h-1zM596 629h1v1h-1zM596 275h1v1h-1zM569 696h1v1h-1zM581 271h1v1h-1zM577 435h1v1h-1zM571 572h1v1h-1zM587 313h1v1h-1zM585 308h1v1h-1zM594 483h1v1h-1zM577 545h1v1h-1zM572 758h1v1h-1zM576 279h1v1h-1zM576 292h1v1h-1zM568 576h2v2h-2zM599 428h1v1h-1zM576 467h1v1h-1zM593 498h1v1h-1zM571 478h1v1h-1zM566 461h1v1h-1zM572 436h1v1h-1zM600 527h1v1h-1zM587 487h1v1h-1zM587 460h2v2h-2zM592 674h1v1h-1zM571 305h1v1h-1zM578 502h1v1h-1zM572 624h1v1h-1zM597 492h1v1h-1zM597 691h1v1h-1zM603 717h1v1h-1zM570 728h1v1h-1zM567 422h1v1h-1zM568 309h1v1h-1zM586 478h1v1h-1zM603 507h1v1h-1zM589 649h1v1h-1zM583 398h1v1h-1zM594 416h2v2h-2zM571 674h1v1h-1zM575 499h1v1h-1zM573 622h1v1h-1zM580 236h1v1h-1zM588 319h1v1h-1zM603 558h1v1h-1zM601 685h1v1h-1zM602 434h1v1h-1zM579 727h1v1h-1zM574 615h1v1h-1zM601 460h1v1h-1zM598 364h1v1h-1zM592 673h1v1h-1zM577 277h1v1h-1zM583 354h1v1h-1zM594 616h1v1h-1zM581 756h1v1h-1zM600 530h1v1h-1zM568 495h1v1h-1zM579 695h1v1h-1zM585 698h1v1h-1zM589 445h1v1h-1zM593 494h1v1h-1zM567 512h1v1h-1zM587 602h1v1h-1zM593 770h1v1h-1zM585 467h1v1h-1zM596 344h1v1h-1zM577 732h1v1h-1zM578 509h1v1h-1zM568 367h1v1h-1zM592 682h1v1h-1zM575 554h1v1h-1zM577 394h1v1h-1zM569 484h1v1h-1zM577 288h1v1h-1zM578 388h1v1h-1zM589 754h1v1h-1zM583 683h1v1h-1zM582 253h1v1h-1zM577 621h1v1h-1zM589 349h1v1h-1zM587 362h1v1h-1zM578 444h2v2h-2zM602 470h1v1h-1zM578 479h1v1h-1zM603 562h1v1h-1zM602 566h1v1h-1zM571 755h1v1h-1zM581 450h1v1h-1zM592 604h2v2h-2zM580 351h1v1h-1zM591 479h1v1h-1zM593 482h1v1h-1zM581 619h1v1h-1zM599 544h1v1h-1zM596 712h1v1h-1zM569 622h1v1h-1zM577 713h1v1h-1zM590 396h1v1h-1zM572 499h1v1h-1zM594 326h1v1h-1zM579 235h1v1h-1zM571 421h1v1h-1zM593 653h1v1h-1zM584 589h1v1h-1zM576 335h1v1h-1zM597 349h1v1h-1zM600 447h1v1h-1zM590 599h1v1h-1zM601 513h1v1h-1zM571 611h1v1h-1zM589 568h1v1h-1zM573 579h1v1h-1zM567 602h1v1h-1zM566 398h1v1h-1zM578 690h1v1h-1zM582 471h1v1h-1zM595 401h1v1h-1zM589 292h2v2h-2zM580 561h1v1h-1zM568 741h1v1h-1zM578 410h1v1h-1zM577 423h1v1h-1zM598 372h1v1h-1zM576 754h1v1h-1zM584 370h1v1h-1zM573 370h1v1h-1zM585 438h1v1h-1zM602 460h1v1h-1zM586 362h1v1h-1zM589 738h1v1h-1zM576 293h1v1h-1zM572 315h1v1h-1zM568 757h1v1h-1zM583 304h1v1h-1zM599 256h2v2h-2zM580 683h1v1h-1zM595 477h1v1h-1zM578 554h1v1h-1zM587 259h1v1h-1zM589 300h1v1h-1zM567 356h1v1h-1zM584 518h1v1h-1zM571 442h1v1h-1zM594 520h1v1h-1zM566 293h1v1h-1zM580 548h1v1h-1zM601 728h1v1h-1zM575 624h1v1h-1zM595 618h1v1h-1zM595 434h1v1h-1zM580 520h1v1h-1zM598 486h1v1h-1zM585 638h2v2h-2zM572 455h1v1h-1zM589 705h1v1h-1zM598 729h2v2h-2zM588 643h1v1h-1zM588 741h1v1h-1zM591 393h1v1h-1zM575 668h1v1h-1zM596 751h1v1h-1zM578 487h1v1h-1zM572 503h1v1h-1zM573 726h1v1h-1zM603 455h1v1h-1zM566 542h1v1h-1zM574 361h1v1h-1zM576 532h1v1h-1zM572 678h1v1h-1zM593 680h1v1h-1zM572 392h1v1h-1zM598 385h1v1h-1zM593 630h1v1h-1zM572 420h1v1h-1zM578 398h1v1h-1zM600 430h1v1h-1zM598 730h1v1h-1zM567 437h1v1h-1zM602 337h1v1h-1zM579 546h1v1h-1zM580 409h1v1h-1zM589 339h1v1h-1zM570 394h1v1h-1zM575 491h1v1h-1zM572 294h1v1h-1zM569 435h1v1h-1zM571 494h1v1h-1zM571 502h1v1h-1zM582 233h1v1h-1zM595 461h1v1h-1zM592 349h1v1h-1zM566 350h1v1h-1zM572 696h1v1h-1zM567 463h1v1h-1zM568 553h1v1h-1zM592 634h1v1h-1zM592 307h1v1h-1zM598 684h1v1h-1zM603 720h1v1h-1zM592 650h1v1h-1zM569 453h1v1h-1zM602 483h1v1h-1zM598 354h1v1h-1zM589 674h1v1h-1zM566 498h1v1h-1zM576 430h1v1h-1zM574 540h1v1h-1zM579 379h1v1h-1zM566 536h2v2h-2zM594 565h1v1h-1zM580 577h1v1h-1zM569 313h1v1h-1zM584 546h1v1h-1zM576 351h1v1h-1zM570 539h2v2h-2zM589 416h1v1h-1zM598 657h1v1h-1zM573 768h1v1h-1zM597 687h1v1h-1zM593 466h1v1h-1zM578 562h1v1h-1zM590 635h1v1h-1zM601 518h1v1h-1zM603 276h1v1h-1zM582 440h1v1h-1zM590 515h1v1h-1zM599 408h1v1h-1zM583 476h1v1h-1zM567 659h1v1h-1zM594 543h1v1h-1zM594 297h1v1h-1zM572 647h1v1h-1zM567 617h1v1h-1zM596 323h2v2h-2zM575 748h1v1h-1zM571 325h1v1h-1zM599 305h1v1h-1zM592 684h1v1h-1zM581 553h1v1h-1zM569 332h1v1h-1zM592 545h1v1h-1zM573 335h1v1h-1zM602 453h1v1h-1zM583 741h1v1h-1zM602 680h2v2h-2zM595 566h1v1h-1zM583 754h1v1h-1zM599 740h1v1h-1zM589 350h1v1h-1zM598 531h1v1h-1zM589 486h1v1h-1zM598 513h1v1h-1zM581 677h1v1h-1zM582 441h1v1h-1zM601 364h1v1h-1zM601 248h1v1h-1zM577 602h1v1h-1zM578 641h1v1h-1zM572 540h1v1h-1zM572 421h1v1h-1zM599 662h2v2h-2zM578 634h1v1h-1zM593 433h1v1h-1zM601 525h1v1h-1zM602 642h1v1h-1zM578 632h1v1h-1zM598 578h1v1h-1zM595 270h1v1h-1zM581 310h1v1h-1zM577 601h1v1h-1zM583 703h1v1h-1zM585 610h1v1h-1zM577 414h1v1h-1zM575 450h1v1h-1zM572 770h1v1h-1zM601 462h1v1h-1zM587 528h1v1h-1zM583 443h1v1h-1zM566 678h1v1h-1zM595 245h1v1h-1zM590 233h1v1h-1zM580 645h1v1h-1zM567 334h1v1h-1zM592 749h1v1h-1zM594 526h1v1h-1zM569 614h1v1h-1zM568 360h1v1h-1zM603 254h1v1h-1zM603 729h1v1h-1zM591 391h1v1h-1zM595 505h1v1h-1zM576 428h1v1h-1zM602 576h1v1h-1zM578 529h1v1h-1zM586 281h1v1h-1zM589 752h1v1h-1zM587 493h1v1h-1zM582 513h1v1h-1zM599 689h1v1h-1zM595 558h1v1h-1zM577 349h1v1h-1zM574 447h1v1h-1zM597 575h1v1h-1zM587 689h1v1h-1zM568 410h1v1h-1zM569 411h1v1h-1zM570 696h2v2h-2zM596 654h1v1h-1zM571 656h1v1h-1zM574 284h1v1h-1zM581 580h1v1h-1zM597 658h1v1h-1zM598 242h1v1h-1zM593 440h1v1h-1zM566 260h1v1h-1zM569 666h1v1h-1zM597 737h1v1h-1zM572 620h1v1h-1zM566 625h1v1h-1zM592 300h1v1h-1zM599 617h1v1h-1zM572 647h1v1h-1zM597 675h1v1h-1zM567 351h1v1h-1zM596 544h2v2h-2zM592 516h1v1h-1zM566 718h1v1h-1zM581 592h1v1h-1zM590 338h1v1h-1zM569 572h1v1h-1zM581 642h1v1h-1zM602 262h1v1h-1zM601 382h1v1h-1zM596 544h1v1h-1zM600 279h1v1h-1zM566 384h1v1h-1zM569 483h2v2h-2zM576 501h1v1h-1zM590 464h1v1h-1zM599 566h1v1h-1zM575 336h1v1h-1zM599 627h1v1h-1zM575 692h1v1h-1zM601 528h1v1h-1zM567 773h1v1h-1zM597 286h1v1h-1zM576 233h1v1h-1zM601 298h1v1h-1zM570 392h1v1h-1zM585 274h1v1h-1zM573 703h1v1h-1zM575 731h1v1h-1zM573 454h1v1h-1zM575 547h1v1h-1zM566 288h1v1h-1zM582 332h1v1h-1zM577 681h1v1h-1zM586 365h1v1h-1zM586 635h1v1h-1zM602 691h1v1h-1zM582 420h1v1h-1zM589 388h1v1h-1zM567 357h1v1h-1zM585 239h1v1h-1zM572 521h1v1h-1zM595 396h1v1h-1zM571 590h1v1h-1zM577 398h1v1h-1zM566 326h1v1h-1zM591 318h1v1h-1zM595 286h1v1h-1zM592 693h1v1h-1zM591 581h1v1h-1zM603 679h1v1h-1zM595 603h1v1h-1zM574 627h1v1h-1zM592 521h1v1h-1zM573 452h1v1h-1zM594 522h1v1h-1zM596 543h1v1h-1zM571 354h1v1h-1zM602 687h1v1h-1zM582 739h1v1h-1zM572 470h1v1h-1zM576 756h1v1h-1zM566 725h1v1h-1zM587 618h1v1h-1zM601 319h1v1h-1zM575 548h1v1h-1zM574 527h1v1h-1zM595 527h1v1h-1zM603 722h1v1h-1zM574 410h1v1h-1zM598 249h1v1h-1zM567 514h1v1h-1zM597 616h1v1h-1zM579 670h1v1h-1zM595 653h1v1h-1zM571 324h1v1h-1zM580 550h1v1h-1zM592 613h1v1h-1zM595 676h1v1h-1zM572 464h1v1h-1zM599 350h1v1h-1zM594 656h1v1h-1zM602 661h1v1h-1zM581 752h1v1h-1zM593 570h1v1h-1zM586 738h1v1h-1zM568 744h1v1h-1zM579 287h1v1h-1zM569 587h1v1h-1zM571 453h1v1h-1zM585 685h1v1h-1zM592 311h2v2h-2zM570 409h1v1h-1zM571 622h1v1h-1zM599 542h1v1h-1zM575 565h1v1h-1zM580 360h2v2h-2zM597 565h2v2h-2zM591 518h1v1h-1zM580 506h1v1h-1zM577 396h1v1h-1zM595 588h1v1h-1zM574 635h1v1h-1zM570 428h1v1h-1zM589 513h1v1h-1zM572 575h1v1h-1zM586 246h2v2h-2zM593 613h1v1h-1zM580 458h1v1h-1zM588 722h1v1h-1zM590 317h1v1h-1zM566 263h1v1h-1zM590 555h1v1h-1zM593 447h1v1h-1zM568 713h1v1h-1zM579 567h1v1h-1zM566 498h1v1h-1zM574 686h1v1h-1zM579 524h1v1h-1zM577 435h1v1h-1zM591 584h2v2h-2zM584 589h1v1h-1zM578 383h1v1h-1zM584 352h1v1h-1zM603 384h1v1h-1zM585 490h1v1h-1zM592 509h1v1h-1zM595 523h1v1h-1zM601 584h1v1h-1zM566 460h1v1h-1zM586 436h1v1h-1zM582 583h2v2h-2zM585 521h2v2h-2zM583 373h1v1h-1zM573 609h1v1h-1zM598 417h1v1h-1zM571 689h1v1h-1zM589 771h1v1h-1zM568 584h1v1h-1zM582 418h1v1h-1zM587 370h1v1h-1zM582 333h1v1h-1zM581 485h2v2h-2zM599 476h1v1h-1zM597 591h1v1h-1zM589 292h1v1h-1zM580 668h1v1h-1zM596 425h2v2h-2zM587 275h1v1h-1zM588 353h1v1h-1zM598 773h1v1h-1zM572 762h1v1h-1zM590 362h1v1h-1zM603 575h1v1h-1zM596 579h1v1h-1zM579 585h2v2h-2zM597 733h1v1h-1zM600 747h1v1h-1zM573 704h1v1h-1zM580 335h1v1h-1zM575 337h1v1h-1zM601 558h1v1h-1zM571 653h1v1h-1zM600 277h1v1h-1zM590 706h1v1h-1zM587 541h1v1h-1zM567 425h1v1h-1zM571 442h1v1h-1zM603 668h1v1h-1zM570 317h1v1h-1zM568 362h2v2h-2zM597 682h1v1h-1zM582 514h1v1h-1zM592 510h1v1h-1zM583 372h1v1h-1zM579 447h1v1h-1zM567 509h1v1h-1zM592 603h1v1h-1zM566 678h1v1h-1zM569 751h1v1h-1zM572 743h1v1h-1zM568 647h1v1h-1zM597 736h1v1h-1zM598 646h1v1h-1zM574 748h1v1h-1zM592 517h1v1h-1zM581 351h1v1h-1zM589 333h1v1h-1zM598 757h1v1h-1zM599 453h1v1h-1zM571 569h1v1h-1zM580 359h2v2h-2zM577 268h1v1h-1zM596 728h1v1h-1zM579 650h1v1h-1zM579 379h1v1h-1zM595 714h1v1h-1zM588 446h1v1h-1zM573 448h1v1h-1zM573 575h1v1h-1zM599 384h1v1h-1zM569 508h1v1h-1zM597 664h1v1h-1zM574 570h1v1h-1zM592 301h1v1h-1zM601 764h1v1h-1zM591 383h1v1h-1zM589 537h1v1h-1zM571 684h2v2h-2zM573 637h1v1h-1zM577 355h1v1h-1zM581 248h1v1h-1zM569 525h1v1h-1zM586 292h1v1h-1zM581 479h1v1h-1zM596 687h1v1h-1zM580 423h1v1h-1zM589 350h1v1h-1zM595 381h1v1h-1zM593 453h1v1h-1zM594 717h1v1h-1zM574 335h1v1h-1zM566 664h1v1h-1zM598 357h1v1h-1zM594 583h1v1h-1zM586 325h1v1h-1zM577 763h1v1h-1zM570 568h1v1h-1zM567 346h1v1h-1zM577 745h1v1h-1zM568 691h1v1h-1zM601 443h1v1h-1zM585 385h1v1h-1zM598 506h1v1h-1z" fill="#a6a6a6"/>
<path d="M497 461h1v1h-1zM510 464h1v1h-1zM476 462h1v1h-1zM498 428h1v1h-1zM473 464h1v1h-1zM485 470h1v1h-1zM485 448h1v1h-1zM469 467h1v1h-1zM463 445h1v1h-1zM501 434h1v1h-1zM493 439h1v1h-1zM484 435h1v1h-1zM504 470h1v1h-1zM493 456h1v1h-1zM471 459h1v1h-1zM503 467h1v1h-1zM460 461h1v1h-1zM466 470h1v1h-1zM491 438h1v1h-1zM478 470h1v1h-1zM482 461h1v1h-1zM510 421h1v1h-1zM496 459h1v1h-1zM496 434h1v1h-1zM465 470h1v1h-1zM475 449h1v1h-1zM508 469h1v1h-1zM476 467h1v1h-1zM501 467h1v1h-1zM495 437h1v1h-1zM507 430h1v1h-1zM498 459h1v1h-1zM474 467h1v1h-1zM499 442h1v1h-1zM471 459h1v1h-1zM500 428h1v1h-1zM502 451h1v1h-1zM471 454h1v1h-1zM467 453h1v1h-1zM475 441h1v1h-1zM495 464h1v1h-1zM497 447h1v1h-1zM483 471h1v1h-1zM501 438h1v1h-1zM461 456h1v1h-1zM512 462h1v1h-1zM492 461h1v1h-1zM486 459h1v1h-1zM502 436h1v1h-1zM468 446h1v1h-1zM495 438h1v1h-1zM485 441h1v1h-1zM465 451h1v1h-1zM489 465h1v1h-1zM508 466h1v1h-1zM510 458h1v1h-1zM467 454h1v1h-1zM481 438h1v1h-1zM461 452h1v1h-1zM471 463h1v1h-1zM486 468h1v1h-1zM507 466h1v1h-1zM482 439h1v1h-1zM489 447h1v1h-1zM479 438h1v1h-1zM466 465h1v1h-1zM505 462h1v1h-1zM503 440h1v1h-1zM495 455h1v1h-1zM464 469h1v1h-1zM504 430h1v1h-1zM462 469h1v1h-1zM478 453h1v1h-1zM471 444h1v1h-1zM466 461h1v1h-1zM503 446h1v1h-1zM511 471h1v1h-1zM506 433h1v1h-1zM469 442h1v1h-1zM509 427h1v1h-1zM493 466h1v1h-1zM485 448h1v1h-1zM460 471h1v1h-1zM503 438h1v1h-1zM506 468h1v1h-1zM483 445h1v1h-1zM503 457h1v1h-1zM496 456h1v1h-1zM493 439h1v1h-1zM460 463h1v1h-1zM505 463h1v1h-1zM490 463h1v1h-1zM485 441h1v1h-1zM461 459h1v1h-1zM467 448h1v1h-1zM496 443h1v1h-1zM476 459h1v1h-1zM465 446h1v1h-1zM495 446h1v1h-1zM493 456h1v1h-1zM491 464h1v1h-1zM492 440h1v1h-1zM494 445h1v1h-1zM502 471h1v1h-1z" fill="#9c9c9c"/>
<line x1="201.5" y1="471.5" x2="518.5" y2="471.5" stroke="#808080" stroke-width="1"/>
<line x1="201.5" y1="658.5" x2="518.5" y2="658.5" stroke="#808080" stroke-width="1"/>
<line x1="201.5" y1="471.0" x2="201.5" y2="659.0" stroke="#808080" stroke-width="1"/>
<line x1="518.5" y1="473.0" x2="518.5" y2="659.0" stroke="#808080" stroke-width="1"/>
<line x1="459.8" y1="473.5" x2="518.5" y2="473.5" stroke="#808080" stroke-width="1"/>
<line x1="368.5" y1="471.5" x2="368.5" y2="506.9" stroke="#808080" stroke-width="1"/>
<line x1="368.0" y1="506.5" x2="459.5" y2="506.5" stroke="#808080" stroke-width="1"/>
<line x1="372.5" y1="466.2" x2="372.5" y2="501.9" stroke="#808080" stroke-width="1"/>
<line x1="372.0" y1="501.5" x2="447.5" y2="501.5" stroke="#808080" stroke-width="1"/>
<line x1="354.5" y1="466.5" x2="373.0" y2="466.5" stroke="#808080" stroke-width="1"/>
<line x1="354.5" y1="443.0" x2="354.5" y2="473.5" stroke="#808080" stroke-width="1"/>
<line x1="354.0" y1="445.5" x2="425.0" y2="445.5" stroke="#808080" stroke-width="1"/>
<line x1="433.0" y1="444.5" x2="447.5" y2="444.5" stroke="#808080" stroke-width="1"/>
<line x1="350.5" y1="458.5" x2="358.5" y2="458.5" stroke="#808080" stroke-width="1"/>
<line x1="354.5" y1="265.3" x2="354.5" y2="279.2" stroke="#808080" stroke-width="1"/>
<line x1="352.4" y1="272.5" x2="357.0" y2="272.5" stroke="#808080" stroke-width="1"/>
<line x1="354.9" y1="267.5" x2="434.0" y2="267.5" stroke="#808080" stroke-width="1"/>
<line x1="433.5" y1="267.0" x2="433.5" y2="445.5" stroke="#808080" stroke-width="1"/>
<line x1="354.9" y1="277.5" x2="425.0" y2="277.5" stroke="#808080" stroke-width="1"/>
<line x1="424.5" y1="277.5" x2="424.5" y2="445.5" stroke="#808080" stroke-width="1"/>
<line x1="460.1" y1="445.2" x2="513.1" y2="418.2" stroke="#808080" stroke-width="1"/>
<line x1="694.2" y1="171.5" x2="1036.6" y2="171.5" stroke="#808080" stroke-width="1"/>
<line x1="694.5" y1="171.5" x2="694.5" y2="185.5" stroke="#808080" stroke-width="1"/>
<line x1="680.9" y1="185.5" x2="1036.6" y2="185.5" stroke="#808080" stroke-width="1"/>
<line x1="682.5" y1="185.5" x2="682.5" y2="213.5" stroke="#808080" stroke-width="1"/>
<line x1="682.5" y1="213.5" x2="1036.6" y2="213.5" stroke="#808080" stroke-width="1"/>
<line x1="1036.5" y1="171.0" x2="1036.5" y2="214.0" stroke="#808080" stroke-width="1"/>
<line x1="848.5" y1="181.3" x2="848.5" y2="774.0" stroke="#808080" stroke-width="1"/>
<line x1="914.5" y1="181.3" x2="914.5" y2="774.0" stroke="#808080" stroke-width="1"/>
<line x1="848.5" y1="181.5" x2="915.0" y2="181.5" stroke="#808080" stroke-width="1"/>
<line x1="935.5" y1="181.3" x2="935.5" y2="774.0" stroke="#808080" stroke-width="1"/>
<line x1="928.5" y1="181.5" x2="942.5" y2="181.5" stroke="#808080" stroke-width="1"/>
<line x1="933.5" y1="183.5" x2="937.5" y2="179.5" stroke="#808080" stroke-width="1"/>
<line x1="848.5" y1="406.5" x2="915.0" y2="406.5" stroke="#808080" stroke-width="1"/>
<line x1="928.5" y1="406.5" x2="942.5" y2="406.5" stroke="#808080" stroke-width="1"/>
<line x1="933.5" y1="409.0" x2="937.5" y2="405.0" stroke="#808080" stroke-width="1"/>
<line x1="974.5" y1="159.4" x2="974.5" y2="774.0" stroke="#808080" stroke-width="1"/>
<line x1="1040.5" y1="159.4" x2="1040.5" y2="774.0" stroke="#808080" stroke-width="1"/>
<line x1="974.8" y1="159.5" x2="1041.0" y2="159.5" stroke="#808080" stroke-width="1"/>
<line x1="1061.5" y1="156.2" x2="1061.5" y2="774.0" stroke="#808080" stroke-width="1"/>
<line x1="1054.6" y1="159.5" x2="1068.5" y2="159.5" stroke="#808080" stroke-width="1"/>
<line x1="1059.5" y1="161.5" x2="1063.5" y2="157.5" stroke="#808080" stroke-width="1"/>
<line x1="974.8" y1="398.5" x2="1041.0" y2="398.5" stroke="#808080" stroke-width="1"/>
<line x1="1054.5" y1="398.5" x2="1068.5" y2="398.5" stroke="#808080" stroke-width="1"/>
<line x1="1059.5" y1="400.5" x2="1063.5" y2="396.5" stroke="#808080" stroke-width="1"/>
<text x="866.7" y="160.0" font-size="22.50" fill="#808080" stroke="#808080" stroke-width="0.1" textLength="34.8" lengthAdjust="spacingAndGlyphs">DK23</text>
<text x="869.0" y="178.2" font-size="19.72" fill="#808080" stroke="#808080" stroke-width="0.1" textLength="28.0" lengthAdjust="spacingAndGlyphs">7.59</text>
<text x="864.8" y="204.5" font-size="22.47" fill="#808080" stroke="#808080" stroke-width="0.1" textLength="31.2" lengthAdjust="spacingAndGlyphs">杂填土</text>
<text x="993.9" y="138.0" font-size="22.22" fill="#808080" stroke="#808080" stroke-width="0.1" textLength="30.4" lengthAdjust="spacingAndGlyphs">JK13</text>
<text x="994.7" y="156.4" font-size="21.39" fill="#808080" stroke="#808080" stroke-width="0.1" textLength="27.7" lengthAdjust="spacingAndGlyphs">7.85</text>
<text x="991.2" y="183.0" font-size="22.80" fill="#808080" stroke="#808080" stroke-width="0.1" textLength="31.2" lengthAdjust="spacingAndGlyphs">杂填土</text>
<text x="849.0" y="429.4" font-size="23.76" fill="#808080" stroke="#808080" stroke-width="0.1" textLength="65.2" lengthAdjust="spacingAndGlyphs">淤泥质土夹砂</text>
<text x="975.0" y="422.4" font-size="23.76" fill="#808080" stroke="#808080" stroke-width="0.1" textLength="65.0" lengthAdjust="spacingAndGlyphs">淤泥质土夹砂</text>
<line x1="513.5" y1="274.5" x2="513.5" y2="418.0" stroke="#f0f0f0" stroke-width="1"/>
<line x1="513.5" y1="418.0" x2="513.5" y2="473.0" stroke="#808080" stroke-width="1"/>
<line x1="513.6" y1="283.3" x2="518.2" y2="278.7" stroke="#8a8a8a" stroke-width="1"/>
<line x1="513.6" y1="291.3" x2="518.2" y2="286.7" stroke="#8a8a8a" stroke-width="1"/>
<line x1="513.6" y1="299.3" x2="518.2" y2="294.7" stroke="#8a8a8a" stroke-width="1"/>
<line x1="513.6" y1="307.3" x2="518.2" y2="302.7" stroke="#8a8a8a" stroke-width="1"/>
<line x1="513.6" y1="315.3" x2="518.2" y2="310.7" stroke="#8a8a8a" stroke-width="1"/>
<line x1="513.6" y1="323.3" x2="518.2" y2="318.7" stroke="#8a8a8a" stroke-width="1"/>
<line x1="513.6" y1="331.3" x2="518.2" y2="326.7" stroke="#8a8a8a" stroke-width="1"/>
<line x1="513.6" y1="339.3" x2="518.2" y2="334.7" stroke="#8a8a8a" stroke-width="1"/>
<line x1="513.6" y1="347.3" x2="518.2" y2="342.7" stroke="#8a8a8a" stroke-width="1"/>
<line x1="513.6" y1="355.3" x2="518.2" y2="350.7" stroke="#8a8a8a" stroke-width="1"/>
<line x1="513.6" y1="363.3" x2="518.2" y2="358.7" stroke="#8a8a8a" stroke-width="1"/>
<line x1="513.6" y1="371.3" x2="518.2" y2="366.7" stroke="#8a8a8a" stroke-width="1"/>
<line x1="513.6" y1="379.3" x2="518.2" y2="374.7" stroke="#8a8a8a" stroke-width="1"/>
<line x1="513.6" y1="387.3" x2="518.2" y2="382.7" stroke="#8a8a8a" stroke-width="1"/>
<line x1="513.6" y1="395.3" x2="518.2" y2="390.7" stroke="#8a8a8a" stroke-width="1"/>
<line x1="513.6" y1="403.3" x2="518.2" y2="398.7" stroke="#8a8a8a" stroke-width="1"/>
<line x1="513.6" y1="411.3" x2="518.2" y2="406.7" stroke="#8a8a8a" stroke-width="1"/>
<line x1="513.6" y1="419.3" x2="518.2" y2="414.7" stroke="#8a8a8a" stroke-width="1"/>
<line x1="513.6" y1="427.3" x2="518.2" y2="422.7" stroke="#8a8a8a" stroke-width="1"/>
<line x1="513.6" y1="435.3" x2="518.2" y2="430.7" stroke="#8a8a8a" stroke-width="1"/>
<line x1="513.6" y1="443.3" x2="518.2" y2="438.7" stroke="#8a8a8a" stroke-width="1"/>
<line x1="513.6" y1="451.3" x2="518.2" y2="446.7" stroke="#8a8a8a" stroke-width="1"/>
<line x1="513.6" y1="459.3" x2="518.2" y2="454.7" stroke="#8a8a8a" stroke-width="1"/>
<line x1="513.6" y1="467.3" x2="518.2" y2="462.7" stroke="#8a8a8a" stroke-width="1"/>
<line x1="402.5" y1="226.0" x2="402.5" y2="249.5" stroke="#ffffff" stroke-width="1"/>
<line x1="402.5" y1="253.5" x2="402.5" y2="277.6" stroke="#ffffff" stroke-width="1"/>
<line x1="402.2" y1="232.5" x2="604.6" y2="232.5" stroke="#ffffff" stroke-width="1"/>
<line x1="402.2" y1="270.5" x2="508.6" y2="270.5" stroke="#ffffff" stroke-width="1"/>
<line x1="508.5" y1="232.0" x2="508.5" y2="274.9" stroke="#ffffff" stroke-width="1"/>
<line x1="508.6" y1="274.5" x2="564.6" y2="274.5" stroke="#ffffff" stroke-width="1"/>
<polyline points="402.5,249.5 407.5,249.5" stroke="#ffffff" stroke-width="1" fill="none"/>
<polyline points="407.0,249.8 397.0,252.6" stroke="#ffffff" stroke-width="1" fill="none"/>
<polyline points="399.5,253.5 403.0,253.5" stroke="#ffffff" stroke-width="1" fill="none"/>
<line x1="518.5" y1="270.0" x2="518.5" y2="473.5" stroke="#ffffff" stroke-width="1"/>
<line x1="555.5" y1="270.0" x2="555.5" y2="774.0" stroke="#ffffff" stroke-width="1"/>
<line x1="518.5" y1="270.5" x2="555.6" y2="270.5" stroke="#ffffff" stroke-width="1"/>
<line x1="564.5" y1="232.0" x2="564.5" y2="774.0" stroke="#ffffff" stroke-width="1"/>
<line x1="604.5" y1="232.0" x2="604.5" y2="774.0" stroke="#ffffff" stroke-width="1"/>
<line x1="518.5" y1="658.8" x2="518.5" y2="672.7" stroke="#ffffff" stroke-width="1"/>
<line x1="473.5" y1="473.6" x2="473.5" y2="487.4" stroke="#ffffff" stroke-width="1"/>
<line x1="459.8" y1="486.5" x2="473.6" y2="486.5" stroke="#ffffff" stroke-width="1"/>
<rect x="448" y="445" width="12" height="62" fill="#000"/>
<line x1="447.5" y1="444.9" x2="447.5" y2="506.8" stroke="#ffffff" stroke-width="1"/>
<line x1="459.5" y1="444.9" x2="459.5" y2="506.8" stroke="#ffffff" stroke-width="1"/>
<line x1="448.0" y1="445.5" x2="460.0" y2="445.5" stroke="#ffffff" stroke-width="1"/>
<line x1="455.5" y1="445.5" x2="455.5" y2="450.4" stroke="#ffffff" stroke-width="1"/>
<line x1="448.0" y1="450.5" x2="460.0" y2="450.5" stroke="#ffffff" stroke-width="1"/>
<line x1="450.5" y1="450.4" x2="450.5" y2="455.2" stroke="#ffffff" stroke-width="1"/>
<line x1="448.0" y1="455.5" x2="460.0" y2="455.5" stroke="#ffffff" stroke-width="1"/>
<line x1="455.5" y1="455.2" x2="455.5" y2="460.1" stroke="#ffffff" stroke-width="1"/>
<line x1="448.0" y1="460.5" x2="460.0" y2="460.5" stroke="#ffffff" stroke-width="1"/>
<line x1="450.5" y1="460.1" x2="450.5" y2="465.0" stroke="#ffffff" stroke-width="1"/>
<line x1="448.0" y1="464.5" x2="460.0" y2="464.5" stroke="#ffffff" stroke-width="1"/>
<line x1="455.5" y1="465.0" x2="455.5" y2="469.9" stroke="#ffffff" stroke-width="1"/>
<line x1="448.0" y1="469.5" x2="460.0" y2="469.5" stroke="#ffffff" stroke-width="1"/>
<line x1="450.5" y1="469.9" x2="450.5" y2="474.7" stroke="#ffffff" stroke-width="1"/>
<line x1="448.0" y1="474.5" x2="460.0" y2="474.5" stroke="#ffffff" stroke-width="1"/>
<line x1="455.5" y1="474.7" x2="455.5" y2="479.6" stroke="#ffffff" stroke-width="1"/>
<line x1="448.0" y1="479.5" x2="460.0" y2="479.5" stroke="#ffffff" stroke-width="1"/>
<line x1="450.5" y1="479.6" x2="450.5" y2="484.5" stroke="#ffffff" stroke-width="1"/>
<line x1="448.0" y1="484.5" x2="460.0" y2="484.5" stroke="#ffffff" stroke-width="1"/>
<line x1="455.5" y1="484.5" x2="455.5" y2="489.3" stroke="#ffffff" stroke-width="1"/>
<line x1="448.0" y1="489.5" x2="460.0" y2="489.5" stroke="#ffffff" stroke-width="1"/>
<line x1="450.5" y1="489.3" x2="450.5" y2="494.2" stroke="#ffffff" stroke-width="1"/>
<line x1="448.0" y1="494.5" x2="460.0" y2="494.5" stroke="#ffffff" stroke-width="1"/>
<line x1="455.5" y1="494.2" x2="455.5" y2="499.1" stroke="#ffffff" stroke-width="1"/>
<line x1="448.0" y1="499.5" x2="460.0" y2="499.5" stroke="#ffffff" stroke-width="1"/>
<line x1="450.5" y1="499.1" x2="450.5" y2="503.9" stroke="#ffffff" stroke-width="1"/>
<line x1="448.0" y1="503.5" x2="460.0" y2="503.5" stroke="#ffffff" stroke-width="1"/>
<line x1="455.5" y1="503.9" x2="455.5" y2="506.9" stroke="#ffffff" stroke-width="1"/>
<line x1="448.0" y1="506.5" x2="460.0" y2="506.5" stroke="#ffffff" stroke-width="1"/>
<line x1="646.5" y1="172.0" x2="646.5" y2="208.8" stroke="#ffffff" stroke-width="1"/>
<polyline points="675.7,171.5 680.5,171.5 680.5,185.5" stroke="#ffffff" stroke-width="1" fill="none"/>
<polyline points="705.5,171.2 705.5,162.5 1036.6,162.5" stroke="#ffffff" stroke-width="1" fill="none"/>
<rect x="1036.5" y="78.5" width="10" height="93" fill="none" stroke="#ffffff"/>
<line x1="1046.0" y1="171.5" x2="1126.0" y2="171.5" stroke="#ffffff" stroke-width="1"/>
<text x="419.6" y="258.0" font-size="16.34" fill="#ffffff" stroke="#ffffff" stroke-width="0.2" textLength="44.3" lengthAdjust="spacingAndGlyphs">混凝土支撑梁</text>
<text x="456.0" y="120.2" font-size="16.67" fill="#ffffff" stroke="#ffffff" stroke-width="0.2" textLength="27.6" lengthAdjust="spacingAndGlyphs">1600</text>
<text x="521.6" y="120.2" font-size="16.67" fill="#ffffff" stroke="#ffffff" stroke-width="0.2" textLength="27.8" lengthAdjust="spacingAndGlyphs">1200</text>
<text x="342.0" y="702.0" font-size="18.06" fill="#ffffff" stroke="#ffffff" stroke-width="0.2" textLength="32.0" lengthAdjust="spacingAndGlyphs">6750</text>
<text x="644.9" y="264.0" font-size="16.67" fill="#ffffff" stroke="#ffffff" stroke-width="0.2" textLength="138.1" lengthAdjust="spacingAndGlyphs"><tspan font-size="20.00" stroke="none">200</tspan>厚<tspan font-size="20.00" stroke="none">C25</tspan>硬化层<tspan font-size="20.00" stroke="none">,Φ14@200</tspan></text>
<text x="711.0" y="300.7" font-size="16.67" fill="#ffffff" stroke="#ffffff" stroke-width="0.2" textLength="74.0" lengthAdjust="spacingAndGlyphs"><tspan font-size="20.00" stroke="none">300</tspan>厚水泥稳定层</text>
<text x="710.5" y="335.9" font-size="16.67" fill="#ffffff" stroke="#ffffff" stroke-width="0.2" textLength="57.8" lengthAdjust="spacingAndGlyphs"><tspan font-size="20.00" stroke="none">600</tspan>厚砖渣层</text>
<text transform="translate(152.6,238.3) rotate(-90)" x="0" y="0" font-size="19.44" fill="#ffffff" stroke="#ffffff" stroke-width="0.2" textLength="68.4" lengthAdjust="spacingAndGlyphs">1100~1300</text>
<text transform="translate(123.8,361.2) rotate(-90)" x="0" y="0" font-size="20.00" fill="#ffffff" stroke="#ffffff" stroke-width="0.2" textLength="76.2" lengthAdjust="spacingAndGlyphs">6200~6400</text>
<text transform="translate(151.7,368.2) rotate(-90)" x="0" y="0" font-size="18.75" fill="#ffffff" stroke="#ffffff" stroke-width="0.2" textLength="29.0" lengthAdjust="spacingAndGlyphs">5100</text>
<text transform="translate(151.8,583.2) rotate(-90)" x="0" y="0" font-size="17.08" fill="#ffffff" stroke="#ffffff" stroke-width="0.2" textLength="31.6" lengthAdjust="spacingAndGlyphs">4000</text>
<text transform="translate(932.2,311.6) rotate(-90)" x="0" y="0" font-size="19.72" fill="#ffffff" stroke="#ffffff" stroke-width="0.2" textLength="32.0" lengthAdjust="spacingAndGlyphs">4800</text>
<text transform="translate(1059.4,296.1) rotate(-90)" x="0" y="0" font-size="19.72" fill="#ffffff" stroke="#ffffff" stroke-width="0.2" textLength="29.3" lengthAdjust="spacingAndGlyphs">5100</text>
<text transform="translate(932.0,794.8) rotate(-90)" x="0" y="0" font-size="19.17" fill="#ffffff" stroke="#ffffff" stroke-width="0.2" textLength="34.0" lengthAdjust="spacingAndGlyphs">3000</text>
<text transform="translate(613.0,209.0) rotate(-45)" x="0" y="0" text-anchor="middle" font-size="15" fill="#ffffff" stroke="#ffffff" stroke-width="0.25" textLength="14" lengthAdjust="spacingAndGlyphs">1:1</text>
<text transform="translate(481.0,431.5) rotate(-27)" x="0" y="0" text-anchor="middle" font-size="15.5" fill="#ffffff" stroke="#ffffff" stroke-width="0.25" textLength="15" lengthAdjust="spacingAndGlyphs">1:2</text>
<line x1="18.0" y1="157.5" x2="111.8" y2="157.5" stroke="#00ff00" stroke-width="1"/>
<polyline points="83.7,157.5 97.6,171.5 111.6,157.5" stroke="#00ff00" stroke-width="1" fill="none"/>
<line x1="83.2" y1="171.5" x2="111.8" y2="171.5" stroke="#00ff00" stroke-width="1"/>
<text x="29.5" y="154.4" font-size="17.78" fill="#00ff00" stroke="#00ff00" stroke-width="0.2" textLength="45.0" lengthAdjust="spacingAndGlyphs">7.6~7.8</text>
<text x="35.8" y="175.9" font-size="17.63" fill="#00ff00" stroke="#00ff00" stroke-width="0.2" textLength="34.4" lengthAdjust="spacingAndGlyphs">坡顶标高</text>
<line x1="0.0" y1="218.5" x2="111.8" y2="218.5" stroke="#00ff00" stroke-width="1"/>
<polyline points="83.7,218.5 97.6,232.5 111.6,218.5" stroke="#00ff00" stroke-width="1" fill="none"/>
<line x1="83.2" y1="232.5" x2="111.8" y2="232.5" stroke="#00ff00" stroke-width="1"/>
<text x="44.7" y="215.2" font-size="17.50" fill="#00ff00" stroke="#00ff00" stroke-width="0.2" textLength="16.8" lengthAdjust="spacingAndGlyphs">6.5</text>
<text x="32.5" y="235.9" font-size="16.99" fill="#00ff00" stroke="#00ff00" stroke-width="0.2" textLength="43.5" lengthAdjust="spacingAndGlyphs">冠梁面标高</text>
<line x1="0.0" y1="457.5" x2="111.8" y2="457.5" stroke="#00ff00" stroke-width="1"/>
<polyline points="83.7,457.5 97.6,471.5 111.6,457.5" stroke="#00ff00" stroke-width="1" fill="none"/>
<line x1="83.2" y1="471.5" x2="111.8" y2="471.5" stroke="#00ff00" stroke-width="1"/>
<text x="41.6" y="453.1" font-size="16.53" fill="#00ff00" stroke="#00ff00" stroke-width="0.2" textLength="23.5" lengthAdjust="spacingAndGlyphs">1.40</text>
<text x="31.8" y="475.7" font-size="16.34" fill="#00ff00" stroke="#00ff00" stroke-width="0.2" textLength="44.9" lengthAdjust="spacingAndGlyphs">底板垫层底</text>
<line x1="813.5" y1="166.5" x2="813.5" y2="343.4" stroke="#00ff00" stroke-width="1"/>
<rect x="812" y="166.0" width="2.6" height="2.6" fill="#00ff00"/>
<rect x="812" y="177.5" width="2.6" height="2.6" fill="#00ff00"/>
<rect x="812" y="198.8" width="2.6" height="2.6" fill="#00ff00"/>
<line x1="644.0" y1="271.5" x2="814.0" y2="271.5" stroke="#00ff00" stroke-width="1"/>
<line x1="711.9" y1="307.5" x2="814.0" y2="307.5" stroke="#00ff00" stroke-width="1"/>
<line x1="711.9" y1="342.5" x2="814.0" y2="342.5" stroke="#00ff00" stroke-width="1"/>
<line x1="127.5" y1="167.0" x2="127.5" y2="774.0" stroke="#78fab9" stroke-width="1"/>
<line x1="155.5" y1="162.0" x2="155.5" y2="662.5" stroke="#78fab9" stroke-width="1"/>
<line x1="120.3" y1="171.5" x2="188.0" y2="171.5" stroke="#78fab9" stroke-width="1"/>
<line x1="149.0" y1="232.5" x2="188.0" y2="232.5" stroke="#78fab9" stroke-width="1"/>
<line x1="120.5" y1="471.5" x2="188.0" y2="471.5" stroke="#78fab9" stroke-width="1"/>
<line x1="149.0" y1="658.5" x2="188.0" y2="658.5" stroke="#78fab9" stroke-width="1"/>
<line x1="125.0" y1="174.0" x2="130.0" y2="169.0" stroke="#78fab9" stroke-width="1"/>
<line x1="153.0" y1="174.0" x2="158.0" y2="169.0" stroke="#78fab9" stroke-width="1"/>
<line x1="153.0" y1="235.0" x2="158.0" y2="230.0" stroke="#78fab9" stroke-width="1"/>
<line x1="125.0" y1="474.0" x2="130.0" y2="469.0" stroke="#78fab9" stroke-width="1"/>
<line x1="153.0" y1="474.0" x2="158.0" y2="469.0" stroke="#78fab9" stroke-width="1"/>
<line x1="153.0" y1="661.0" x2="158.0" y2="656.0" stroke="#78fab9" stroke-width="1"/>
<line x1="429.4" y1="124.5" x2="569.3" y2="124.5" stroke="#78fab9" stroke-width="1"/>
<line x1="433.5" y1="117.9" x2="433.5" y2="157.3" stroke="#78fab9" stroke-width="1"/>
<line x1="508.5" y1="117.9" x2="508.5" y2="157.3" stroke="#78fab9" stroke-width="1"/>
<line x1="564.5" y1="117.9" x2="564.5" y2="158.0" stroke="#78fab9" stroke-width="1"/>
<line x1="431.0" y1="127.0" x2="436.0" y2="122.0" stroke="#78fab9" stroke-width="1"/>
<line x1="506.0" y1="127.0" x2="511.0" y2="122.0" stroke="#78fab9" stroke-width="1"/>
<line x1="562.0" y1="127.0" x2="567.0" y2="122.0" stroke="#78fab9" stroke-width="1"/>
<line x1="198.3" y1="705.5" x2="522.0" y2="705.5" stroke="#78fab9" stroke-width="1"/>
<line x1="201.5" y1="673.7" x2="201.5" y2="712.5" stroke="#78fab9" stroke-width="1"/>
<line x1="518.5" y1="672.7" x2="518.5" y2="774.0" stroke="#78fab9" stroke-width="1"/>
<line x1="199.0" y1="708.0" x2="204.0" y2="703.0" stroke="#78fab9" stroke-width="1"/>
<line x1="516.0" y1="708.0" x2="521.0" y2="703.0" stroke="#78fab9" stroke-width="1"/>
<line x1="567.2" y1="270.5" x2="679.3" y2="270.5" stroke="#78fab9" stroke-width="1"/>
<line x1="672.5" y1="266.0" x2="672.5" y2="774.0" stroke="#78fab9" stroke-width="1"/>
<polyline points="308.9,76.5 500.6,76.5 609.0,187.7" stroke="#ffbf00" stroke-width="1" fill="none"/>
<text x="388.5" y="72.6" font-size="16.67" fill="#ffbf00" stroke="#ffbf00" stroke-width="0.2" textLength="70.5" lengthAdjust="spacingAndGlyphs">喷射<tspan font-size="20.00" stroke="none">C20</tspan>砼厚<tspan font-size="20.00" stroke="none">50</tspan></text>
<text x="363.9" y="97.2" font-size="15.91" fill="#ffbf00" stroke="#ffbf00" stroke-width="0.2" textLength="121.5" lengthAdjust="spacingAndGlyphs">内挂<tspan font-size="19.10" stroke="none">Φ6@300X300</tspan>钢筋网</text>
<polyline points="672.1,101.0 686.5,75.5 749.4,75.5" stroke="#ffbf00" stroke-width="1" fill="none"/>
<text x="690.5" y="70.9" font-size="17.85" fill="#ffbf00" stroke="#ffbf00" stroke-width="0.2" textLength="34.7" lengthAdjust="spacingAndGlyphs">防护栏杆</text>
<polyline points="944.2,104.5 1007.5,104.5 1039.6,121.0" stroke="#ffbf00" stroke-width="1" fill="none"/>
<text x="968.1" y="101.4" font-size="17.63" fill="#ffbf00" stroke="#ffbf00" stroke-width="0.2" textLength="35.9" lengthAdjust="spacingAndGlyphs">施工围挡</text>
<text x="781.1" y="139.7" font-size="17.42" fill="#ffbf00" stroke="#ffbf00" stroke-width="0.2" textLength="83.1" lengthAdjust="spacingAndGlyphs">现状水泥路<tspan font-size="20.90" stroke="none">,</tspan>施工道路</text>
<text x="778.2" y="161.5" font-size="17.85" fill="#ffbf00" stroke="#ffbf00" stroke-width="0.2" textLength="88.9" lengthAdjust="spacingAndGlyphs">地面附加荷载<tspan font-size="21.42" stroke="none">35kpa</tspan></text>
<polyline points="689.3,177.4 704.5,210.5 751.8,210.5" stroke="#ffbf00" stroke-width="1" fill="none"/>
<text x="707.9" y="206.1" font-size="17.42" fill="#ffbf00" stroke="#ffbf00" stroke-width="0.2" textLength="25.4" lengthAdjust="spacingAndGlyphs">排水沟</text>
<polyline points="646.4,198.0 662.6,229.5 777.8,229.5" stroke="#ffbf00" stroke-width="1" fill="none"/>
<text x="696.1" y="227.8" font-size="15.38" fill="#ffbf00" stroke="#ffbf00" stroke-width="0.2" textLength="39.1" lengthAdjust="spacingAndGlyphs"><tspan font-size="18.45" stroke="none">Φ14 </tspan>插筋</text>
<text x="677.6" y="250.0" font-size="18.06" fill="#ffbf00" stroke="#ffbf00" stroke-width="0.2" textLength="74.2" lengthAdjust="spacingAndGlyphs">L=800@1500</text>
<polyline points="276.2,320.5 473.0,320.5 516.6,358.0" stroke="#ffbf00" stroke-width="1" fill="none"/>
<text x="347.5" y="317.1" font-size="17.96" fill="#ffbf00" stroke="#ffbf00" stroke-width="0.2" textLength="87.8" lengthAdjust="spacingAndGlyphs">桩前喷射<tspan font-size="21.55" stroke="none">C20</tspan>砼厚<tspan font-size="21.55" stroke="none">80</tspan></text>
<text x="331.1" y="341.4" font-size="17.10" fill="#ffbf00" stroke="#ffbf00" stroke-width="0.2" textLength="122.3" lengthAdjust="spacingAndGlyphs">内挂<tspan font-size="20.52" stroke="none">Φ6@200X200</tspan>钢筋网</text>
<polyline points="297.9,389.5 426.3,389.5 475.1,453.7" stroke="#ffbf00" stroke-width="1" fill="none"/>
<text x="342.0" y="384.8" font-size="17.10" fill="#ffbf00" stroke="#ffbf00" stroke-width="0.2" textLength="75.2" lengthAdjust="spacingAndGlyphs"><tspan font-size="20.52" stroke="none">600</tspan>厚素砼刚性铰</text>
<text x="358.6" y="409.5" font-size="16.34" fill="#ffbf00" stroke="#ffbf00" stroke-width="0.2" textLength="43.1" lengthAdjust="spacingAndGlyphs">强度同底板</text>
<polyline points="238.0,431.5 416.1,431.5 450.6,458.5" stroke="#ffbf00" stroke-width="1" fill="none"/>
<text x="299.0" y="428.4" font-size="15.16" fill="#ffbf00" stroke="#ffbf00" stroke-width="0.2" textLength="100.1" lengthAdjust="spacingAndGlyphs">砖胎膜强度不低于<tspan font-size="18.19" stroke="none">MU10</tspan></text>
<polyline points="466.8,480.9 529.7,524.5 577.0,524.5" stroke="#ffbf00" stroke-width="1" fill="none"/>
<text x="536.7" y="520.5" font-size="17.53" fill="#ffbf00" stroke="#ffbf00" stroke-width="0.2" textLength="22.3" lengthAdjust="spacingAndGlyphs">排水沟</text>
<line x1="604.5" y1="575.5" x2="839.2" y2="575.5" stroke="#ffbf00" stroke-width="1"/>
<text x="681.6" y="570.5" font-size="14.09" fill="#ffbf00" stroke="#ffbf00" stroke-width="0.2" textLength="107.2" lengthAdjust="spacingAndGlyphs"><tspan font-size="16.90" stroke="none">Φ850@600</tspan>三轴搅拌桩</text>
<text x="710.7" y="596.0" font-size="17.22" fill="#ffbf00" stroke="#ffbf00" stroke-width="0.2" textLength="47.9" lengthAdjust="spacingAndGlyphs">L=15000</text>
<text x="348.4" y="579.4" font-size="17.74" fill="#ffbf00" stroke="#ffbf00" stroke-width="0.2" textLength="42.8" lengthAdjust="spacingAndGlyphs">被动区加固</text>
<line x1="669.5" y1="101.0" x2="669.5" y2="157.5" stroke="#ffff00" stroke-width="1"/>
<line x1="672.5" y1="101.0" x2="672.5" y2="157.5" stroke="#ffff00" stroke-width="1"/>
<line x1="669.0" y1="100.5" x2="673.0" y2="100.5" stroke="#ffff00" stroke-width="1"/>
<rect x="666.5" y="157.5" width="9" height="14" fill="none" stroke="#ffff00"/>
<polyline points="565.2,232.0 625.8,171.5 666.5,171.5" stroke="#0080ff" stroke-width="1" fill="none"/>
<line x1="565.2" y1="232.0" x2="548.4" y2="216.2" stroke="#f45f00" stroke-width="1"/>
<line x1="625.3" y1="171.5" x2="609.3" y2="154.8" stroke="#f45f00" stroke-width="1"/>
<line x1="548.4" y1="216.2" x2="609.3" y2="154.8" stroke="#f45f00" stroke-width="1"/>
<rect x="546.9" y="214.7" width="3" height="3" fill="#f45f00"/>
<rect x="607.8" y="153.3" width="3" height="3" fill="#f45f00"/>
<text transform="translate(575.0,181.5) rotate(-45)" x="0" y="0" text-anchor="middle" font-size="6" fill="#f45f00" stroke="#f45f00" stroke-width="0.25">1838</text>
<line x1="625.3" y1="149.5" x2="666.5" y2="149.5" stroke="#f45f00" stroke-width="1"/>
<line x1="625.5" y1="149.0" x2="625.5" y2="249.0" stroke="#f45f00" stroke-width="1"/>
<line x1="666.5" y1="149.0" x2="666.5" y2="172.0" stroke="#f45f00" stroke-width="1"/>
<text transform="translate(645.6,148.2) rotate(0)" x="0" y="0" text-anchor="middle" font-size="6" fill="#f45f00" stroke="#f45f00" stroke-width="0.25">482</text>
<line x1="636.5" y1="172.0" x2="636.5" y2="233.3" stroke="#f45f00" stroke-width="1"/>
<line x1="625.3" y1="171.5" x2="639.5" y2="171.5" stroke="#f45f00" stroke-width="1"/>
<line x1="604.5" y1="232.5" x2="639.5" y2="232.5" stroke="#f45f00" stroke-width="1"/>
<rect x="636.0" y="171.5" width="2" height="2" fill="#f45f00"/>
<rect x="636.0" y="232.5" width="2" height="2" fill="#f45f00"/>
<text transform="translate(635.0,203.0) rotate(-90)" x="0" y="0" text-anchor="middle" font-size="6" fill="#f45f00" stroke="#f45f00" stroke-width="0.25">1384</text>
<line x1="564.4" y1="248.5" x2="626.1" y2="248.5" stroke="#f45f00" stroke-width="1"/>
<line x1="564.5" y1="232.0" x2="564.5" y2="249.0" stroke="#f45f00" stroke-width="1"/>
<rect x="563.8" y="247.5" width="2" height="2" fill="#f45f00"/>
<rect x="624.6" y="247.5" width="2" height="2" fill="#f45f00"/>
<text transform="translate(595.0,247.3) rotate(0)" x="0" y="0" text-anchor="middle" font-size="6" fill="#f45f00" stroke="#f45f00" stroke-width="0.25">1100</text>
<line x1="464.5" y1="445.2" x2="464.5" y2="471.8" stroke="#f45f00" stroke-width="1"/>
<line x1="459.8" y1="445.5" x2="465.5" y2="445.5" stroke="#f45f00" stroke-width="1"/>
<line x1="498.5" y1="418.2" x2="498.5" y2="474.0" stroke="#f45f00" stroke-width="1"/>
<line x1="507.5" y1="417.0" x2="507.5" y2="474.0" stroke="#f45f00" stroke-width="1"/>
<line x1="497.4" y1="418.5" x2="513.1" y2="418.5" stroke="#f45f00" stroke-width="1"/>
<line x1="497.4" y1="473.5" x2="513.1" y2="473.5" stroke="#f45f00" stroke-width="1"/>
<text transform="translate(497.2,447.0) rotate(-90)" x="0" y="0" text-anchor="middle" font-size="6" fill="#f45f00" stroke="#f45f00" stroke-width="0.25">1100</text>
<text transform="translate(506.2,445.5) rotate(-90)" x="0" y="0" text-anchor="middle" font-size="6" fill="#f45f00" stroke="#f45f00" stroke-width="0.25">700</text>
<line x1="440.5" y1="469.6" x2="440.5" y2="508.0" stroke="#f45f00" stroke-width="1"/>
<line x1="439.9" y1="471.5" x2="447.7" y2="471.5" stroke="#f45f00" stroke-width="1"/>
<line x1="439.9" y1="506.5" x2="459.5" y2="506.5" stroke="#f45f00" stroke-width="1"/>
<text transform="translate(440.2,489.5) rotate(-90)" x="0" y="0" text-anchor="middle" font-size="6" fill="#f45f00" stroke="#f45f00" stroke-width="0.25">240</text>
<line x1="481.5" y1="472.5" x2="481.5" y2="488.1" stroke="#f45f00" stroke-width="1"/>
<line x1="473.3" y1="473.5" x2="482.5" y2="473.5" stroke="#f45f00" stroke-width="1"/>
<line x1="473.3" y1="486.5" x2="482.5" y2="486.5" stroke="#f45f00" stroke-width="1"/>
<polyline points="373.5,471.5 373.5,465.6 372.5,467.0" stroke="#f45f00" stroke-width="1" fill="none"/>
<line x1="372.9" y1="471.5" x2="376.8" y2="471.5" stroke="#f45f00" stroke-width="1"/>
<path d="M267.7 824.5A57.0 57.0 0 0 1 267.7 730.6A57.0 57.0 0 0 1 267.7 637.0A57.0 57.0 0 0 1 267.7 544.8A57.0 57.0 0 0 1 267.7 450.8A57.0 57.0 0 0 1 267.7 357.0A57.0 57.0 0 0 1 267.7 263.3A57.0 57.0 0 0 1 267.7 169.3A57.0 57.0 0 0 1 269.5 79.0A58.8 58.8 0 0 1 363.9 76.4A58.8 58.8 0 0 1 457.2 76.4A58.8 58.8 0 0 1 550.6 76.7A58.8 58.8 0 0 1 644.4 76.7A58.8 58.8 0 0 1 738.0 76.7A58.8 58.8 0 0 1 831.8 76.7A58.8 58.8 0 0 1 925.4 76.7A58.8 58.8 0 0 1 1020.2 77.7A42 42 0 0 1 1045.5 143.3A57.0 57.0 0 0 1 1046.0 237.3A57.0 57.0 0 0 1 1046.0 331.5A57.0 57.0 0 0 1 1046.0 425.5A57.0 57.0 0 0 1 1046.2 519.6A57.0 57.0 0 0 1 1046.4 612.2A57.0 57.0 0 0 1 1046.4 705.6A57.0 57.0 0 0 1 1046.4 799.5" fill="none" stroke="#ff0000" stroke-width="1"/>
<rect x="179" y="461" width="356" height="219" fill="none" stroke="#fc5252" stroke-width="4"/>
</svg>
</body></html>
